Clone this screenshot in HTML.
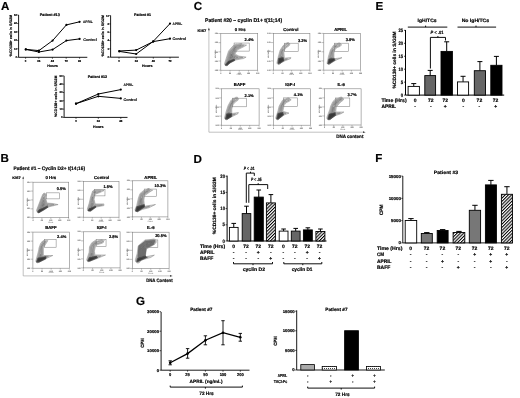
<!DOCTYPE html>
<html><head><meta charset="utf-8"><style>
html,body{margin:0;padding:0;background:#fff;}
svg{display:block;font-family:"Liberation Sans",sans-serif;font-weight:bold;text-rendering:geometricPrecision;will-change:transform;}
</style></head><body>
<svg width="520" height="398" viewBox="0 0 520 398">
<defs><filter id="gb" x="0" y="0" width="520" height="398" filterUnits="userSpaceOnUse"><feConvolveMatrix order="3" kernelMatrix="0.00000 0.00000 0.00000 0.00000 1.00000 0.00000 0.00000 0.00000 0.00000" edgeMode="duplicate" preserveAlpha="true"/></filter></defs>
<g>
<rect width="520" height="398" fill="#fff"/>
<defs><filter id="bl" x="-20%" y="-20%" width="140%" height="140%"><feGaussianBlur stdDeviation="0.55"/></filter><pattern id="hat" patternUnits="userSpaceOnUse" width="2.3" height="2.3" patternTransform="rotate(45)"><rect width="2.3" height="2.3" fill="#fff"/><rect width="1.05" height="2.3" fill="#000"/></pattern><pattern id="dots" patternUnits="userSpaceOnUse" width="2" height="2"><rect width="2" height="2" fill="#fff"/><rect width="1" height="1" fill="#444"/></pattern></defs>
<line x1="18.60" y1="15.00" x2="18.60" y2="57.30" stroke="#000" stroke-width="0.9"/>
<line x1="18.60" y1="57.30" x2="87.30" y2="57.30" stroke="#000" stroke-width="0.9"/>
<line x1="17.20" y1="57.30" x2="18.60" y2="57.30" stroke="#000" stroke-width="0.7"/>
<text x="17.00" y="58.23" font-size="2.70" text-anchor="end" stroke="#000" stroke-width="0.18">0</text>
<line x1="17.20" y1="48.84" x2="18.60" y2="48.84" stroke="#000" stroke-width="0.7"/>
<text x="17.00" y="49.77" font-size="2.70" text-anchor="end" stroke="#000" stroke-width="0.18">10</text>
<line x1="17.20" y1="40.38" x2="18.60" y2="40.38" stroke="#000" stroke-width="0.7"/>
<text x="17.00" y="41.31" font-size="2.70" text-anchor="end" stroke="#000" stroke-width="0.18">20</text>
<line x1="17.20" y1="31.92" x2="18.60" y2="31.92" stroke="#000" stroke-width="0.7"/>
<text x="17.00" y="32.85" font-size="2.70" text-anchor="end" stroke="#000" stroke-width="0.18">30</text>
<line x1="17.20" y1="23.46" x2="18.60" y2="23.46" stroke="#000" stroke-width="0.7"/>
<text x="17.00" y="24.39" font-size="2.70" text-anchor="end" stroke="#000" stroke-width="0.18">40</text>
<line x1="17.20" y1="15.00" x2="18.60" y2="15.00" stroke="#000" stroke-width="0.7"/>
<text x="17.00" y="15.93" font-size="2.70" text-anchor="end" stroke="#000" stroke-width="0.18">50</text>
<line x1="25.60" y1="57.30" x2="25.60" y2="58.70" stroke="#000" stroke-width="0.7"/>
<text x="25.60" y="61.67" font-size="2.80" text-anchor="middle" stroke="#000" stroke-width="0.18">0</text>
<line x1="38.80" y1="57.30" x2="38.80" y2="58.70" stroke="#000" stroke-width="0.7"/>
<text x="38.80" y="61.67" font-size="2.80" text-anchor="middle" stroke="#000" stroke-width="0.18">24</text>
<line x1="52.40" y1="57.30" x2="52.40" y2="58.70" stroke="#000" stroke-width="0.7"/>
<text x="52.40" y="61.67" font-size="2.80" text-anchor="middle" stroke="#000" stroke-width="0.18">48</text>
<line x1="66.20" y1="57.30" x2="66.20" y2="58.70" stroke="#000" stroke-width="0.7"/>
<text x="66.20" y="61.67" font-size="2.80" text-anchor="middle" stroke="#000" stroke-width="0.18">72</text>
<line x1="79.60" y1="57.30" x2="79.60" y2="58.70" stroke="#000" stroke-width="0.7"/>
<text x="79.60" y="61.67" font-size="2.80" text-anchor="middle" stroke="#000" stroke-width="0.18">96</text>
<text x="49.80" y="15.91" font-size="3.80" text-anchor="middle" textLength="19.90" lengthAdjust="spacingAndGlyphs" stroke="#000" stroke-width="0.18">Patient #13</text>
<text x="52.60" y="66.88" font-size="3.70" text-anchor="middle" textLength="10.50" lengthAdjust="spacingAndGlyphs" stroke="#000" stroke-width="0.18">Hours</text>
<text x="10.80" y="36.89" font-size="3.60" text-anchor="middle" textLength="41.50" lengthAdjust="spacingAndGlyphs" transform="rotate(-90 10.80 35.65)" stroke="#000" stroke-width="0.18">%CD138+ cells in S/G2M</text>
<polyline points="25.80,49.40 38.90,50.60 52.60,40.60 66.40,24.90 79.60,21.80" fill="none" stroke="#000" stroke-width="1.0"/>
<circle cx="25.80" cy="49.40" r="1.1" fill="#000"/>
<circle cx="38.90" cy="50.60" r="1.1" fill="#000"/>
<circle cx="52.60" cy="40.60" r="1.1" fill="#000"/>
<circle cx="66.40" cy="24.90" r="1.1" fill="#000"/>
<circle cx="79.60" cy="21.80" r="1.1" fill="#000"/>
<polyline points="25.80,49.40 38.90,52.00 52.60,49.60 66.40,40.60 79.60,38.90" fill="none" stroke="#000" stroke-width="1.0"/>
<circle cx="25.80" cy="49.40" r="1.1" fill="#000"/>
<circle cx="38.90" cy="52.00" r="1.1" fill="#000"/>
<circle cx="52.60" cy="49.60" r="1.1" fill="#000"/>
<circle cx="66.40" cy="40.60" r="1.1" fill="#000"/>
<circle cx="79.60" cy="38.90" r="1.1" fill="#000"/>
<text x="83.00" y="23.18" font-size="3.70" text-anchor="start" textLength="9.60" lengthAdjust="spacingAndGlyphs" stroke="#000" stroke-width="0.12">APRIL</text>
<text x="83.30" y="40.78" font-size="3.70" text-anchor="start" textLength="13.40" lengthAdjust="spacingAndGlyphs" stroke="#000" stroke-width="0.12">Control</text>
<line x1="110.60" y1="15.50" x2="110.60" y2="57.20" stroke="#000" stroke-width="0.9"/>
<line x1="110.60" y1="57.20" x2="178.90" y2="57.20" stroke="#000" stroke-width="0.9"/>
<line x1="109.20" y1="57.20" x2="110.60" y2="57.20" stroke="#000" stroke-width="0.7"/>
<text x="109.00" y="58.13" font-size="2.70" text-anchor="end" stroke="#000" stroke-width="0.18">0</text>
<line x1="109.20" y1="48.88" x2="110.60" y2="48.88" stroke="#000" stroke-width="0.7"/>
<text x="109.00" y="49.81" font-size="2.70" text-anchor="end" stroke="#000" stroke-width="0.18">2</text>
<line x1="109.20" y1="40.56" x2="110.60" y2="40.56" stroke="#000" stroke-width="0.7"/>
<text x="109.00" y="41.49" font-size="2.70" text-anchor="end" stroke="#000" stroke-width="0.18">4</text>
<line x1="109.20" y1="32.24" x2="110.60" y2="32.24" stroke="#000" stroke-width="0.7"/>
<text x="109.00" y="33.17" font-size="2.70" text-anchor="end" stroke="#000" stroke-width="0.18">6</text>
<line x1="109.20" y1="23.92" x2="110.60" y2="23.92" stroke="#000" stroke-width="0.7"/>
<text x="109.00" y="24.85" font-size="2.70" text-anchor="end" stroke="#000" stroke-width="0.18">8</text>
<line x1="109.20" y1="15.60" x2="110.60" y2="15.60" stroke="#000" stroke-width="0.7"/>
<text x="109.00" y="16.53" font-size="2.70" text-anchor="end" stroke="#000" stroke-width="0.18">10</text>
<line x1="119.00" y1="57.20" x2="119.00" y2="58.60" stroke="#000" stroke-width="0.7"/>
<text x="119.00" y="61.57" font-size="2.80" text-anchor="middle" stroke="#000" stroke-width="0.18">0</text>
<line x1="136.20" y1="57.20" x2="136.20" y2="58.60" stroke="#000" stroke-width="0.7"/>
<text x="136.20" y="61.57" font-size="2.80" text-anchor="middle" stroke="#000" stroke-width="0.18">24</text>
<line x1="153.30" y1="57.20" x2="153.30" y2="58.60" stroke="#000" stroke-width="0.7"/>
<text x="153.30" y="61.57" font-size="2.80" text-anchor="middle" stroke="#000" stroke-width="0.18">48</text>
<line x1="170.00" y1="57.20" x2="170.00" y2="58.60" stroke="#000" stroke-width="0.7"/>
<text x="170.00" y="61.57" font-size="2.80" text-anchor="middle" stroke="#000" stroke-width="0.18">72</text>
<text x="142.60" y="15.91" font-size="3.80" text-anchor="middle" textLength="17.00" lengthAdjust="spacingAndGlyphs" stroke="#000" stroke-width="0.18">Patient #1</text>
<text x="147.20" y="66.88" font-size="3.70" text-anchor="middle" textLength="10.50" lengthAdjust="spacingAndGlyphs" stroke="#000" stroke-width="0.18">Hours</text>
<text x="102.90" y="37.09" font-size="3.60" text-anchor="middle" textLength="41.50" lengthAdjust="spacingAndGlyphs" transform="rotate(-90 102.90 35.85)" stroke="#000" stroke-width="0.18">%CD138+ cells in S/G2M</text>
<polyline points="119.30,51.40 136.20,54.00 153.20,41.40 170.00,23.60" fill="none" stroke="#000" stroke-width="1.0"/>
<circle cx="119.30" cy="51.40" r="1.1" fill="#000"/>
<circle cx="136.20" cy="54.00" r="1.1" fill="#000"/>
<circle cx="153.20" cy="41.40" r="1.1" fill="#000"/>
<circle cx="170.00" cy="23.60" r="1.1" fill="#000"/>
<polyline points="119.30,51.00 136.20,50.10 153.20,41.60 170.00,38.70" fill="none" stroke="#000" stroke-width="1.0"/>
<circle cx="119.30" cy="51.00" r="1.1" fill="#000"/>
<circle cx="136.20" cy="50.10" r="1.1" fill="#000"/>
<circle cx="153.20" cy="41.60" r="1.1" fill="#000"/>
<circle cx="170.00" cy="38.70" r="1.1" fill="#000"/>
<text x="172.60" y="24.68" font-size="3.70" text-anchor="start" textLength="9.60" lengthAdjust="spacingAndGlyphs" stroke="#000" stroke-width="0.12">APRIL</text>
<text x="172.60" y="40.08" font-size="3.70" text-anchor="start" textLength="13.40" lengthAdjust="spacingAndGlyphs" stroke="#000" stroke-width="0.12">Control</text>
<line x1="64.10" y1="75.90" x2="64.10" y2="117.40" stroke="#000" stroke-width="0.9"/>
<line x1="64.10" y1="117.40" x2="127.50" y2="117.40" stroke="#000" stroke-width="0.9"/>
<line x1="62.70" y1="117.40" x2="64.10" y2="117.40" stroke="#000" stroke-width="0.7"/>
<text x="62.50" y="118.33" font-size="2.70" text-anchor="end" stroke="#000" stroke-width="0.18">0</text>
<line x1="62.70" y1="109.10" x2="64.10" y2="109.10" stroke="#000" stroke-width="0.7"/>
<text x="62.50" y="110.03" font-size="2.70" text-anchor="end" stroke="#000" stroke-width="0.18">10</text>
<line x1="62.70" y1="100.80" x2="64.10" y2="100.80" stroke="#000" stroke-width="0.7"/>
<text x="62.50" y="101.73" font-size="2.70" text-anchor="end" stroke="#000" stroke-width="0.18">20</text>
<line x1="62.70" y1="92.50" x2="64.10" y2="92.50" stroke="#000" stroke-width="0.7"/>
<text x="62.50" y="93.43" font-size="2.70" text-anchor="end" stroke="#000" stroke-width="0.18">30</text>
<line x1="62.70" y1="84.20" x2="64.10" y2="84.20" stroke="#000" stroke-width="0.7"/>
<text x="62.50" y="85.13" font-size="2.70" text-anchor="end" stroke="#000" stroke-width="0.18">40</text>
<line x1="62.70" y1="75.90" x2="64.10" y2="75.90" stroke="#000" stroke-width="0.7"/>
<text x="62.50" y="76.83" font-size="2.70" text-anchor="end" stroke="#000" stroke-width="0.18">50</text>
<line x1="76.00" y1="117.40" x2="76.00" y2="118.80" stroke="#000" stroke-width="0.7"/>
<text x="76.00" y="121.77" font-size="2.80" text-anchor="middle" stroke="#000" stroke-width="0.18">0</text>
<line x1="98.30" y1="117.40" x2="98.30" y2="118.80" stroke="#000" stroke-width="0.7"/>
<text x="98.30" y="121.77" font-size="2.80" text-anchor="middle" stroke="#000" stroke-width="0.18">24</text>
<line x1="120.80" y1="117.40" x2="120.80" y2="118.80" stroke="#000" stroke-width="0.7"/>
<text x="120.80" y="121.77" font-size="2.80" text-anchor="middle" stroke="#000" stroke-width="0.18">48</text>
<text x="97.40" y="77.61" font-size="3.80" text-anchor="middle" textLength="19.30" lengthAdjust="spacingAndGlyphs" stroke="#000" stroke-width="0.18">Patient #12</text>
<text x="98.30" y="127.58" font-size="3.70" text-anchor="middle" textLength="10.50" lengthAdjust="spacingAndGlyphs" stroke="#000" stroke-width="0.18">Hours</text>
<text x="56.20" y="97.39" font-size="3.60" text-anchor="middle" textLength="41.50" lengthAdjust="spacingAndGlyphs" transform="rotate(-90 56.20 96.15)" stroke="#000" stroke-width="0.18">%CD138+ cells in S/G2M</text>
<polyline points="76.00,103.70 98.30,94.00 120.80,89.60" fill="none" stroke="#000" stroke-width="1.0"/>
<circle cx="76.00" cy="103.70" r="1.1" fill="#000"/>
<circle cx="98.30" cy="94.00" r="1.1" fill="#000"/>
<circle cx="120.80" cy="89.60" r="1.1" fill="#000"/>
<polyline points="76.00,103.70 98.30,96.30 120.80,98.40" fill="none" stroke="#000" stroke-width="1.0"/>
<circle cx="76.00" cy="103.70" r="1.1" fill="#000"/>
<circle cx="98.30" cy="96.30" r="1.1" fill="#000"/>
<circle cx="120.80" cy="98.40" r="1.1" fill="#000"/>
<text x="123.50" y="85.98" font-size="3.70" text-anchor="start" textLength="9.60" lengthAdjust="spacingAndGlyphs" stroke="#000" stroke-width="0.12">APRIL</text>
<text x="123.50" y="101.08" font-size="3.70" text-anchor="start" textLength="13.40" lengthAdjust="spacingAndGlyphs" stroke="#000" stroke-width="0.12">Control</text>
<rect x="220.80" y="33.50" width="36.90" height="36.70" fill="none" stroke="#808080" stroke-width="0.6"/>
<line x1="218.40" y1="70.20" x2="220.80" y2="70.20" stroke="#777" stroke-width="0.45"/>
<text x="218.00" y="70.86" font-size="1.90" text-anchor="end" fill="#777" stroke="#777" stroke-width="0.1">100</text>
<line x1="220.80" y1="70.20" x2="220.80" y2="71.70" stroke="#777" stroke-width="0.45"/>
<text x="220.80" y="73.66" font-size="1.90" text-anchor="middle" fill="#777" stroke="#777" stroke-width="0.1">0</text>
<line x1="218.40" y1="61.03" x2="220.80" y2="61.03" stroke="#777" stroke-width="0.45"/>
<text x="218.00" y="61.68" font-size="1.90" text-anchor="end" fill="#777" stroke="#777" stroke-width="0.1">101</text>
<line x1="230.03" y1="70.20" x2="230.03" y2="71.70" stroke="#777" stroke-width="0.45"/>
<text x="230.03" y="73.66" font-size="1.90" text-anchor="middle" fill="#777" stroke="#777" stroke-width="0.1">50</text>
<line x1="218.40" y1="51.85" x2="220.80" y2="51.85" stroke="#777" stroke-width="0.45"/>
<text x="218.00" y="52.51" font-size="1.90" text-anchor="end" fill="#777" stroke="#777" stroke-width="0.1">102</text>
<line x1="239.25" y1="70.20" x2="239.25" y2="71.70" stroke="#777" stroke-width="0.45"/>
<text x="239.25" y="73.66" font-size="1.90" text-anchor="middle" fill="#777" stroke="#777" stroke-width="0.1">100</text>
<line x1="218.40" y1="42.67" x2="220.80" y2="42.67" stroke="#777" stroke-width="0.45"/>
<text x="218.00" y="43.33" font-size="1.90" text-anchor="end" fill="#777" stroke="#777" stroke-width="0.1">103</text>
<line x1="248.47" y1="70.20" x2="248.47" y2="71.70" stroke="#777" stroke-width="0.45"/>
<text x="248.47" y="73.66" font-size="1.90" text-anchor="middle" fill="#777" stroke="#777" stroke-width="0.1">150</text>
<line x1="218.40" y1="33.50" x2="220.80" y2="33.50" stroke="#777" stroke-width="0.45"/>
<text x="218.00" y="34.16" font-size="1.90" text-anchor="end" fill="#777" stroke="#777" stroke-width="0.1">104</text>
<line x1="257.70" y1="70.20" x2="257.70" y2="71.70" stroke="#777" stroke-width="0.45"/>
<text x="257.70" y="73.66" font-size="1.90" text-anchor="middle" fill="#777" stroke="#777" stroke-width="0.1">200</text>
<text x="215.60" y="54.27" font-size="1.70" text-anchor="middle" transform="rotate(-90 215.60 53.69)" fill="#888" stroke="#888" stroke-width="0.05">Ki67-FITC</text>
<text x="239.25" y="75.49" font-size="1.70" text-anchor="middle" fill="#888" stroke="#888" stroke-width="0.05">FL2-A</text>
<g><path d="M231.0 62.2 235.1 60.1 243.7 58.5 246.1 57.1 238.9 56.1 235.7 54.4 235.3 53.7 237.2 50.0 243.1 47.1 246.6 45.1 242.8 44.6 242.2 43.8 241.2 43.4 237.6 44.2 236.7 44.1 233.7 45.2 231.0 48.1 228.5 51.1 224.6 63.4 224.6 64.6 225.0 65.2 225.6 65.6 226.3 65.8 227.0 65.7 227.7 65.2 228.2 64.3Z" fill="#d6d6d6" fill-rule="evenodd"/><path d="M227.4 57.4 227.2 58.5 225.4 63.8 225.6 64.5 226.2 64.8 226.9 64.7 227.5 63.6 230.5 61.4 234.7 59.3 242.9 57.6 238.4 56.9 235.0 55.1 234.6 54.5 234.4 53.7 234.6 53.0 236.5 49.4 243.7 45.7 242.4 45.5 241.7 44.6 241.1 44.4 237.8 45.1 236.8 45.0 234.3 46.0 230.5 50.1 229.4 51.6Z" fill="rgb(189,189,189)" fill-rule="evenodd"/><path d="M226.7 63.2 230.0 60.6 234.1 58.5 237.8 57.7 234.8 56.1 234.1 55.6 233.5 54.3 233.6 53.0 235.7 48.8 236.4 48.3 241.4 45.8 241.1 45.3 237.9 46.0 236.9 46.0 234.9 46.8 231.2 50.8 230.2 52.0Z" fill="rgb(173,173,173)" fill-rule="evenodd"/><path d="M228.6 60.5 229.8 59.6 233.8 57.6 234.9 57.3 233.8 56.5 233.0 55.7 232.6 54.4 232.5 53.3 232.8 52.3 234.6 48.7 235.3 47.9 236.4 47.2 235.4 47.6 231.1 52.5Z" fill="rgb(157,157,157)" fill-rule="evenodd"/><path d="M230.2 58.4 232.9 57.0 232.0 55.8 231.6 54.1Z" fill="rgb(141,141,141)" fill-rule="evenodd"/><path d="M231.0 62.2 235.1 60.1 243.7 58.5 246.1 57.1 238.9 56.1 235.7 54.4 235.3 53.7 237.2 50.0 243.1 47.1 246.6 45.1 242.8 44.6 242.2 43.8 241.2 43.4 237.6 44.2 236.7 44.1 233.7 45.2 231.0 48.1 228.5 51.1 224.6 63.4 224.6 64.6 225.0 65.2 225.6 65.6 226.3 65.8 227.0 65.7 227.7 65.2 228.2 64.3Z" fill="none" stroke="#555" stroke-width="0.35"/><path d="M227.4 57.4 227.2 58.5 225.4 63.8 225.6 64.5 226.2 64.8 226.9 64.7 227.5 63.6 230.5 61.4 234.7 59.3 242.9 57.6 238.4 56.9 235.0 55.1 234.6 54.5 234.4 53.7 234.6 53.0 236.5 49.4 243.7 45.7 242.4 45.5 241.7 44.6 241.1 44.4 237.8 45.1 236.8 45.0 234.3 46.0 230.5 50.1 229.4 51.6Z" fill="none" stroke="#555" stroke-width="0.35"/><path d="M226.7 63.2 230.0 60.6 234.1 58.5 237.8 57.7 234.8 56.1 234.1 55.6 233.5 54.3 233.6 53.0 235.7 48.8 236.4 48.3 241.4 45.8 241.1 45.3 237.9 46.0 236.9 46.0 234.9 46.8 231.2 50.8 230.2 52.0Z" fill="none" stroke="#555" stroke-width="0.35"/><path d="M228.6 60.5 229.8 59.6 233.8 57.6 234.9 57.3 233.8 56.5 233.0 55.7 232.6 54.4 232.5 53.3 232.8 52.3 234.6 48.7 235.3 47.9 236.4 47.2 235.4 47.6 231.1 52.5Z" fill="none" stroke="#555" stroke-width="0.35"/><path d="M230.2 58.4 232.9 57.0 232.0 55.8 231.6 54.1Z" fill="none" stroke="#555" stroke-width="0.35"/><path d="M225.2 65.3 227.2 65.6 230.1 63.0 234.9 60.5 235.0 60.2 234.1 59.0 228.1 61.2 225.1 65.0Z" fill="#555"/><path d="M225.2 65.3 227.2 65.6 230.1 63.0 234.9 60.5 235.0 60.2 234.1 59.0 228.1 61.2 225.1 65.0Z" fill="none" stroke="#222" stroke-width="0.35"/><path d="M226.1 64.7 226.9 64.9 229.8 62.4 234.1 60.1 233.9 59.8 228.5 61.8Z" fill="#383838"/></g>
<rect x="234.08" y="43.04" width="15.13" height="8.07" fill="none" stroke="#808080" stroke-width="0.55"/>
<text x="249.14" y="41.38" font-size="4.00" text-anchor="middle" stroke="#000" stroke-width="0.18">2.4%</text>
<rect x="273.30" y="33.40" width="36.60" height="36.70" fill="none" stroke="#808080" stroke-width="0.6"/>
<line x1="270.90" y1="70.10" x2="273.30" y2="70.10" stroke="#777" stroke-width="0.45"/>
<text x="270.50" y="70.76" font-size="1.90" text-anchor="end" fill="#777" stroke="#777" stroke-width="0.1">100</text>
<line x1="273.30" y1="70.10" x2="273.30" y2="71.60" stroke="#777" stroke-width="0.45"/>
<text x="273.30" y="73.56" font-size="1.90" text-anchor="middle" fill="#777" stroke="#777" stroke-width="0.1">0</text>
<line x1="270.90" y1="60.92" x2="273.30" y2="60.92" stroke="#777" stroke-width="0.45"/>
<text x="270.50" y="61.58" font-size="1.90" text-anchor="end" fill="#777" stroke="#777" stroke-width="0.1">101</text>
<line x1="282.45" y1="70.10" x2="282.45" y2="71.60" stroke="#777" stroke-width="0.45"/>
<text x="282.45" y="73.56" font-size="1.90" text-anchor="middle" fill="#777" stroke="#777" stroke-width="0.1">50</text>
<line x1="270.90" y1="51.75" x2="273.30" y2="51.75" stroke="#777" stroke-width="0.45"/>
<text x="270.50" y="52.41" font-size="1.90" text-anchor="end" fill="#777" stroke="#777" stroke-width="0.1">102</text>
<line x1="291.60" y1="70.10" x2="291.60" y2="71.60" stroke="#777" stroke-width="0.45"/>
<text x="291.60" y="73.56" font-size="1.90" text-anchor="middle" fill="#777" stroke="#777" stroke-width="0.1">100</text>
<line x1="270.90" y1="42.57" x2="273.30" y2="42.57" stroke="#777" stroke-width="0.45"/>
<text x="270.50" y="43.23" font-size="1.90" text-anchor="end" fill="#777" stroke="#777" stroke-width="0.1">103</text>
<line x1="300.75" y1="70.10" x2="300.75" y2="71.60" stroke="#777" stroke-width="0.45"/>
<text x="300.75" y="73.56" font-size="1.90" text-anchor="middle" fill="#777" stroke="#777" stroke-width="0.1">150</text>
<line x1="270.90" y1="33.40" x2="273.30" y2="33.40" stroke="#777" stroke-width="0.45"/>
<text x="270.50" y="34.06" font-size="1.90" text-anchor="end" fill="#777" stroke="#777" stroke-width="0.1">104</text>
<line x1="309.90" y1="70.10" x2="309.90" y2="71.60" stroke="#777" stroke-width="0.45"/>
<text x="309.90" y="73.56" font-size="1.90" text-anchor="middle" fill="#777" stroke="#777" stroke-width="0.1">200</text>
<text x="268.10" y="54.17" font-size="1.70" text-anchor="middle" transform="rotate(-90 268.10 53.58)" fill="#888" stroke="#888" stroke-width="0.05">Ki67-FITC</text>
<text x="291.60" y="75.39" font-size="1.70" text-anchor="middle" fill="#888" stroke="#888" stroke-width="0.05">FL2-A</text>
<g><path d="M285.3 60.7 290.5 58.7 290.9 57.6 285.0 58.1 284.5 57.9 284.3 57.4 283.9 52.2 284.8 49.6 285.6 48.3 289.1 45.8 289.7 44.9 289.8 43.8 289.1 43.0 288.3 42.6 287.0 42.8 283.1 45.6 280.1 50.2 278.5 55.8 277.0 62.4 277.0 63.3 277.4 63.9 277.9 64.4 278.6 64.6 279.3 64.5 280.2 64.0 280.6 63.1Z" fill="#d6d6d6" fill-rule="evenodd"/><path d="M284.9 59.9 287.5 58.9 284.8 59.0 284.2 58.8 283.6 58.3 283.3 57.5 282.9 51.9 283.9 49.2 284.9 47.7 288.7 44.9 288.7 44.1 288.1 43.5 287.4 43.7 283.6 46.4 280.9 50.6 279.4 56.0 277.9 62.5 278.0 63.2 278.5 63.6 279.2 63.5 280.1 62.3Z" fill="rgb(189,189,189)" fill-rule="evenodd"/><path d="M279.0 62.0 279.7 61.4 283.5 59.5 282.8 58.8 282.4 57.9 282.0 52.4 282.1 51.5 282.8 49.4 281.8 51.1 280.3 56.2Z" fill="rgb(173,173,173)" fill-rule="evenodd"/><path d="M280.4 60.0 282.0 59.2 281.5 58.1 281.3 56.2Z" fill="rgb(157,157,157)" fill-rule="evenodd"/><path d="M285.3 60.7 290.5 58.7 290.9 57.6 285.0 58.1 284.5 57.9 284.3 57.4 283.9 52.2 284.8 49.6 285.6 48.3 289.1 45.8 289.7 44.9 289.8 43.8 289.1 43.0 288.3 42.6 287.0 42.8 283.1 45.6 280.1 50.2 278.5 55.8 277.0 62.4 277.0 63.3 277.4 63.9 277.9 64.4 278.6 64.6 279.3 64.5 280.2 64.0 280.6 63.1Z" fill="none" stroke="#555" stroke-width="0.35"/><path d="M284.9 59.9 287.5 58.9 284.8 59.0 284.2 58.8 283.6 58.3 283.3 57.5 282.9 51.9 283.9 49.2 284.9 47.7 288.7 44.9 288.7 44.1 288.1 43.5 287.4 43.7 283.6 46.4 280.9 50.6 279.4 56.0 277.9 62.5 278.0 63.2 278.5 63.6 279.2 63.5 280.1 62.3Z" fill="none" stroke="#555" stroke-width="0.35"/><path d="M279.0 62.0 279.7 61.4 283.5 59.5 282.8 58.8 282.4 57.9 282.0 52.4 282.1 51.5 282.8 49.4 281.8 51.1 280.3 56.2Z" fill="none" stroke="#555" stroke-width="0.35"/><path d="M280.4 60.0 282.0 59.2 281.5 58.1 281.3 56.2Z" fill="none" stroke="#555" stroke-width="0.35"/><path d="M278.1 63.7 280.3 63.3 284.1 60.7 283.3 57.5 278.6 58.2 277.9 63.5Z" fill="#555"/><path d="M278.1 63.7 280.3 63.3 284.1 60.7 283.3 57.5 278.6 58.2 277.9 63.5Z" fill="none" stroke="#222" stroke-width="0.35"/><path d="M278.6 62.9 280.1 62.7 283.3 60.3 282.8 58.2 279.2 58.8Z" fill="#383838"/></g>
<rect x="284.65" y="43.20" width="13.54" height="8.11" fill="none" stroke="#808080" stroke-width="0.55"/>
<text x="302.58" y="42.12" font-size="4.00" text-anchor="middle" stroke="#000" stroke-width="0.18">3.2%</text>
<rect x="323.80" y="33.40" width="36.80" height="36.70" fill="none" stroke="#808080" stroke-width="0.6"/>
<line x1="321.40" y1="70.10" x2="323.80" y2="70.10" stroke="#777" stroke-width="0.45"/>
<text x="321.00" y="70.76" font-size="1.90" text-anchor="end" fill="#777" stroke="#777" stroke-width="0.1">100</text>
<line x1="323.80" y1="70.10" x2="323.80" y2="71.60" stroke="#777" stroke-width="0.45"/>
<text x="323.80" y="73.56" font-size="1.90" text-anchor="middle" fill="#777" stroke="#777" stroke-width="0.1">0</text>
<line x1="321.40" y1="60.92" x2="323.80" y2="60.92" stroke="#777" stroke-width="0.45"/>
<text x="321.00" y="61.58" font-size="1.90" text-anchor="end" fill="#777" stroke="#777" stroke-width="0.1">101</text>
<line x1="333.00" y1="70.10" x2="333.00" y2="71.60" stroke="#777" stroke-width="0.45"/>
<text x="333.00" y="73.56" font-size="1.90" text-anchor="middle" fill="#777" stroke="#777" stroke-width="0.1">50</text>
<line x1="321.40" y1="51.75" x2="323.80" y2="51.75" stroke="#777" stroke-width="0.45"/>
<text x="321.00" y="52.41" font-size="1.90" text-anchor="end" fill="#777" stroke="#777" stroke-width="0.1">102</text>
<line x1="342.20" y1="70.10" x2="342.20" y2="71.60" stroke="#777" stroke-width="0.45"/>
<text x="342.20" y="73.56" font-size="1.90" text-anchor="middle" fill="#777" stroke="#777" stroke-width="0.1">100</text>
<line x1="321.40" y1="42.57" x2="323.80" y2="42.57" stroke="#777" stroke-width="0.45"/>
<text x="321.00" y="43.23" font-size="1.90" text-anchor="end" fill="#777" stroke="#777" stroke-width="0.1">103</text>
<line x1="351.40" y1="70.10" x2="351.40" y2="71.60" stroke="#777" stroke-width="0.45"/>
<text x="351.40" y="73.56" font-size="1.90" text-anchor="middle" fill="#777" stroke="#777" stroke-width="0.1">150</text>
<line x1="321.40" y1="33.40" x2="323.80" y2="33.40" stroke="#777" stroke-width="0.45"/>
<text x="321.00" y="34.06" font-size="1.90" text-anchor="end" fill="#777" stroke="#777" stroke-width="0.1">104</text>
<line x1="360.60" y1="70.10" x2="360.60" y2="71.60" stroke="#777" stroke-width="0.45"/>
<text x="360.60" y="73.56" font-size="1.90" text-anchor="middle" fill="#777" stroke="#777" stroke-width="0.1">200</text>
<text x="318.60" y="54.17" font-size="1.70" text-anchor="middle" transform="rotate(-90 318.60 53.58)" fill="#888" stroke="#888" stroke-width="0.05">Ki67-FITC</text>
<text x="342.20" y="75.39" font-size="1.70" text-anchor="middle" fill="#888" stroke="#888" stroke-width="0.05">FL2-A</text>
<g><path d="M337.0 59.7 342.0 57.7 334.9 58.6 334.3 58.4 334.0 57.9 334.0 53.1 334.8 50.0 335.7 48.6 337.5 47.5 340.3 46.3 340.8 45.8 341.1 45.1 341.5 44.8 341.1 44.7 341.0 44.1 340.6 43.5 339.6 43.0 338.7 43.0 336.3 44.0 335.0 44.0 334.5 44.7 333.4 45.4 330.4 50.0 328.6 55.8 327.2 62.4 327.2 63.4 327.6 64.0 328.2 64.4 328.9 64.6 329.6 64.5 330.3 64.0 330.8 63.1Z" fill="#d6d6d6" fill-rule="evenodd"/><path d="M335.5 45.0 335.2 45.5 334.2 46.0 331.1 50.7 329.6 56.0 328.1 62.5 328.2 63.2 328.7 63.6 329.4 63.5 330.2 62.3 335.4 59.5 334.6 59.5 333.9 59.3 333.4 58.7 333.1 58.1 333.1 53.1 333.9 49.7 335.1 47.9 337.1 46.6 339.8 45.5 340.2 44.9 339.9 44.1 339.3 43.9 336.6 44.9Z" fill="rgb(189,189,189)" fill-rule="evenodd"/><path d="M329.2 62.1 329.7 61.5 333.0 59.7 332.4 58.9 332.1 57.8 332.1 53.0 333.0 49.5 331.9 51.1 330.5 56.2ZM334.6 47.1 334.7 47.0 336.5 45.9 336.0 45.9 334.9 46.7Z" fill="rgb(173,173,173)" fill-rule="evenodd"/><path d="M330.6 59.9 331.6 59.4 331.2 58.4 331.2 57.4Z" fill="rgb(157,157,157)" fill-rule="evenodd"/><path d="M337.0 59.7 342.0 57.7 334.9 58.6 334.3 58.4 334.0 57.9 334.0 53.1 334.8 50.0 335.7 48.6 337.5 47.5 340.3 46.3 340.8 45.8 341.1 45.1 341.5 44.8 341.1 44.7 341.0 44.1 340.6 43.5 339.6 43.0 338.7 43.0 336.3 44.0 335.0 44.0 334.5 44.7 333.4 45.4 330.4 50.0 328.6 55.8 327.2 62.4 327.2 63.4 327.6 64.0 328.2 64.4 328.9 64.6 329.6 64.5 330.3 64.0 330.8 63.1Z" fill="none" stroke="#555" stroke-width="0.35"/><path d="M335.5 45.0 335.2 45.5 334.2 46.0 331.1 50.7 329.6 56.0 328.1 62.5 328.2 63.2 328.7 63.6 329.4 63.5 330.2 62.3 335.4 59.5 334.6 59.5 333.9 59.3 333.4 58.7 333.1 58.1 333.1 53.1 333.9 49.7 335.1 47.9 337.1 46.6 339.8 45.5 340.2 44.9 339.9 44.1 339.3 43.9 336.6 44.9Z" fill="none" stroke="#555" stroke-width="0.35"/><path d="M329.2 62.1 329.7 61.5 333.0 59.7 332.4 58.9 332.1 57.8 332.1 53.0 333.0 49.5 331.9 51.1 330.5 56.2ZM334.6 47.1 334.7 47.0 336.5 45.9 336.0 45.9 334.9 46.7Z" fill="none" stroke="#555" stroke-width="0.35"/><path d="M330.6 59.9 331.6 59.4 331.2 58.4 331.2 57.4Z" fill="none" stroke="#555" stroke-width="0.35"/><path d="M327.9 64.1 330.5 63.3 335.0 60.3 334.2 58.2 328.8 58.9 327.7 63.8Z" fill="#555"/><path d="M327.9 64.1 330.5 63.3 335.0 60.3 334.2 58.2 328.8 58.9 327.7 63.8Z" fill="none" stroke="#222" stroke-width="0.35"/><path d="M328.5 63.1 330.2 62.7 334.2 60.0 333.8 58.9 329.4 59.5Z" fill="#383838"/></g>
<rect x="334.58" y="43.20" width="14.02" height="8.11" fill="none" stroke="#808080" stroke-width="0.55"/>
<text x="350.30" y="40.76" font-size="4.00" text-anchor="middle" stroke="#000" stroke-width="0.18">3.9%</text>
<rect x="221.50" y="88.80" width="37.60" height="36.40" fill="none" stroke="#808080" stroke-width="0.6"/>
<line x1="219.10" y1="125.20" x2="221.50" y2="125.20" stroke="#777" stroke-width="0.45"/>
<text x="218.70" y="125.86" font-size="1.90" text-anchor="end" fill="#777" stroke="#777" stroke-width="0.1">100</text>
<line x1="221.50" y1="125.20" x2="221.50" y2="126.70" stroke="#777" stroke-width="0.45"/>
<text x="221.50" y="128.66" font-size="1.90" text-anchor="middle" fill="#777" stroke="#777" stroke-width="0.1">0</text>
<line x1="219.10" y1="116.10" x2="221.50" y2="116.10" stroke="#777" stroke-width="0.45"/>
<text x="218.70" y="116.76" font-size="1.90" text-anchor="end" fill="#777" stroke="#777" stroke-width="0.1">101</text>
<line x1="230.90" y1="125.20" x2="230.90" y2="126.70" stroke="#777" stroke-width="0.45"/>
<text x="230.90" y="128.66" font-size="1.90" text-anchor="middle" fill="#777" stroke="#777" stroke-width="0.1">50</text>
<line x1="219.10" y1="107.00" x2="221.50" y2="107.00" stroke="#777" stroke-width="0.45"/>
<text x="218.70" y="107.66" font-size="1.90" text-anchor="end" fill="#777" stroke="#777" stroke-width="0.1">102</text>
<line x1="240.30" y1="125.20" x2="240.30" y2="126.70" stroke="#777" stroke-width="0.45"/>
<text x="240.30" y="128.66" font-size="1.90" text-anchor="middle" fill="#777" stroke="#777" stroke-width="0.1">100</text>
<line x1="219.10" y1="97.90" x2="221.50" y2="97.90" stroke="#777" stroke-width="0.45"/>
<text x="218.70" y="98.56" font-size="1.90" text-anchor="end" fill="#777" stroke="#777" stroke-width="0.1">103</text>
<line x1="249.70" y1="125.20" x2="249.70" y2="126.70" stroke="#777" stroke-width="0.45"/>
<text x="249.70" y="128.66" font-size="1.90" text-anchor="middle" fill="#777" stroke="#777" stroke-width="0.1">150</text>
<line x1="219.10" y1="88.80" x2="221.50" y2="88.80" stroke="#777" stroke-width="0.45"/>
<text x="218.70" y="89.46" font-size="1.90" text-anchor="end" fill="#777" stroke="#777" stroke-width="0.1">104</text>
<line x1="259.10" y1="125.20" x2="259.10" y2="126.70" stroke="#777" stroke-width="0.45"/>
<text x="259.10" y="128.66" font-size="1.90" text-anchor="middle" fill="#777" stroke="#777" stroke-width="0.1">200</text>
<text x="216.30" y="109.41" font-size="1.70" text-anchor="middle" transform="rotate(-90 216.30 108.82)" fill="#888" stroke="#888" stroke-width="0.05">Ki67-FITC</text>
<text x="240.30" y="130.49" font-size="1.70" text-anchor="middle" fill="#888" stroke="#888" stroke-width="0.05">FL2-A</text>
<g><path d="M231.2 117.0 237.9 113.8 238.4 112.5 232.7 113.4 232.1 113.2 231.8 112.7 231.8 109.2 232.9 104.9 235.2 102.1 237.7 100.5 238.3 99.6 238.4 98.9 238.2 98.2 237.8 97.6 237.2 97.2 235.9 97.2 234.0 98.4 233.5 98.4 233.0 99.0 231.3 100.0 230.8 100.6 228.0 105.7 226.1 111.6 224.6 117.4 224.6 118.4 224.9 119.0 225.4 119.5 226.1 119.8 226.8 119.7 227.6 119.3 228.1 118.7Z" fill="#d6d6d6" fill-rule="evenodd"/><path d="M226.8 118.8 227.6 117.9 230.8 116.1 235.5 113.9 232.6 114.4 231.9 114.2 231.3 113.8 230.9 112.8 230.9 109.1 232.1 104.4 234.5 101.4 237.3 99.5 237.4 98.8 236.9 98.1 236.1 98.2 234.4 99.2 233.9 99.3 231.8 100.9 228.9 105.9 227.0 111.8 225.5 117.8 225.6 118.4 226.2 118.8Z" fill="rgb(189,189,189)" fill-rule="evenodd"/><path d="M226.5 117.8 227.2 117.1 231.1 114.9 230.4 114.2 229.9 113.0 230.0 108.7 231.2 104.0 233.9 100.7 232.4 101.6 229.8 106.3 227.9 112.1ZM234.3 100.4 234.6 100.2 234.4 100.2Z" fill="rgb(173,173,173)" fill-rule="evenodd"/><path d="M228.0 115.5 229.6 114.6 229.0 113.4 229.0 112.0Z" fill="rgb(157,157,157)" fill-rule="evenodd"/><path d="M231.2 117.0 237.9 113.8 238.4 112.5 232.7 113.4 232.1 113.2 231.8 112.7 231.8 109.2 232.9 104.9 235.2 102.1 237.7 100.5 238.3 99.6 238.4 98.9 238.2 98.2 237.8 97.6 237.2 97.2 235.9 97.2 234.0 98.4 233.5 98.4 233.0 99.0 231.3 100.0 230.8 100.6 228.0 105.7 226.1 111.6 224.6 117.4 224.6 118.4 224.9 119.0 225.4 119.5 226.1 119.8 226.8 119.7 227.6 119.3 228.1 118.7Z" fill="none" stroke="#555" stroke-width="0.35"/><path d="M226.8 118.8 227.6 117.9 230.8 116.1 235.5 113.9 232.6 114.4 231.9 114.2 231.3 113.8 230.9 112.8 230.9 109.1 232.1 104.4 234.5 101.4 237.3 99.5 237.4 98.8 236.9 98.1 236.1 98.2 234.4 99.2 233.9 99.3 231.8 100.9 228.9 105.9 227.0 111.8 225.5 117.8 225.6 118.4 226.2 118.8Z" fill="none" stroke="#555" stroke-width="0.35"/><path d="M226.5 117.8 227.2 117.1 231.1 114.9 230.4 114.2 229.9 113.0 230.0 108.7 231.2 104.0 233.9 100.7 232.4 101.6 229.8 106.3 227.9 112.1ZM234.3 100.4 234.6 100.2 234.4 100.2Z" fill="none" stroke="#555" stroke-width="0.35"/><path d="M228.0 115.5 229.6 114.6 229.0 113.4 229.0 112.0Z" fill="none" stroke="#555" stroke-width="0.35"/><path d="M225.6 119.2 227.6 119.2 231.8 116.6 231.8 113.4 226.6 113.8 225.4 119.0Z" fill="#555"/><path d="M225.6 119.2 227.6 119.2 231.8 116.6 231.8 113.4 226.6 113.8 225.4 119.0Z" fill="none" stroke="#222" stroke-width="0.35"/><path d="M226.3 118.5 227.4 118.5 231.2 116.2 231.2 114.1 227.2 114.4Z" fill="#383838"/></g>
<rect x="232.33" y="98.19" width="14.18" height="8.59" fill="none" stroke="#808080" stroke-width="0.55"/>
<text x="249.14" y="96.73" font-size="4.00" text-anchor="middle" stroke="#000" stroke-width="0.18">2.1%</text>
<rect x="273.50" y="88.80" width="37.10" height="36.40" fill="none" stroke="#808080" stroke-width="0.6"/>
<line x1="271.10" y1="125.20" x2="273.50" y2="125.20" stroke="#777" stroke-width="0.45"/>
<text x="270.70" y="125.86" font-size="1.90" text-anchor="end" fill="#777" stroke="#777" stroke-width="0.1">100</text>
<line x1="273.50" y1="125.20" x2="273.50" y2="126.70" stroke="#777" stroke-width="0.45"/>
<text x="273.50" y="128.66" font-size="1.90" text-anchor="middle" fill="#777" stroke="#777" stroke-width="0.1">0</text>
<line x1="271.10" y1="116.10" x2="273.50" y2="116.10" stroke="#777" stroke-width="0.45"/>
<text x="270.70" y="116.76" font-size="1.90" text-anchor="end" fill="#777" stroke="#777" stroke-width="0.1">101</text>
<line x1="282.77" y1="125.20" x2="282.77" y2="126.70" stroke="#777" stroke-width="0.45"/>
<text x="282.77" y="128.66" font-size="1.90" text-anchor="middle" fill="#777" stroke="#777" stroke-width="0.1">50</text>
<line x1="271.10" y1="107.00" x2="273.50" y2="107.00" stroke="#777" stroke-width="0.45"/>
<text x="270.70" y="107.66" font-size="1.90" text-anchor="end" fill="#777" stroke="#777" stroke-width="0.1">102</text>
<line x1="292.05" y1="125.20" x2="292.05" y2="126.70" stroke="#777" stroke-width="0.45"/>
<text x="292.05" y="128.66" font-size="1.90" text-anchor="middle" fill="#777" stroke="#777" stroke-width="0.1">100</text>
<line x1="271.10" y1="97.90" x2="273.50" y2="97.90" stroke="#777" stroke-width="0.45"/>
<text x="270.70" y="98.56" font-size="1.90" text-anchor="end" fill="#777" stroke="#777" stroke-width="0.1">103</text>
<line x1="301.33" y1="125.20" x2="301.33" y2="126.70" stroke="#777" stroke-width="0.45"/>
<text x="301.33" y="128.66" font-size="1.90" text-anchor="middle" fill="#777" stroke="#777" stroke-width="0.1">150</text>
<line x1="271.10" y1="88.80" x2="273.50" y2="88.80" stroke="#777" stroke-width="0.45"/>
<text x="270.70" y="89.46" font-size="1.90" text-anchor="end" fill="#777" stroke="#777" stroke-width="0.1">104</text>
<line x1="310.60" y1="125.20" x2="310.60" y2="126.70" stroke="#777" stroke-width="0.45"/>
<text x="310.60" y="128.66" font-size="1.90" text-anchor="middle" fill="#777" stroke="#777" stroke-width="0.1">200</text>
<text x="268.30" y="109.41" font-size="1.70" text-anchor="middle" transform="rotate(-90 268.30 108.82)" fill="#888" stroke="#888" stroke-width="0.05">Ki67-FITC</text>
<text x="292.05" y="130.49" font-size="1.70" text-anchor="middle" fill="#888" stroke="#888" stroke-width="0.05">FL2-A</text>
<g><path d="M283.4 115.3 289.0 113.1 283.6 111.5 283.2 111.3 283.0 110.8 284.1 105.3 286.5 102.5 289.2 101.4 289.8 100.9 290.1 100.3 291.2 99.8 290.2 99.6 289.8 98.5 288.9 97.9 287.8 97.9 285.5 98.9 283.5 99.3 282.3 100.6 279.7 105.0 279.0 106.5 278.0 110.8 275.8 117.5 275.9 118.7 276.4 119.3 277.0 119.7 277.7 119.8 278.4 119.6 279.0 119.1 279.4 118.4Z" fill="#d6d6d6" fill-rule="evenodd"/><path d="M279.9 106.8 278.9 111.1 276.7 117.7 276.8 118.4 277.4 118.8 278.1 118.6 278.7 117.7 282.9 114.5 286.0 113.2 283.1 112.4 282.2 111.4 282.1 110.5 283.1 105.3 283.4 104.6 285.9 101.7 289.0 100.4 289.3 99.8 289.0 99.1 288.6 98.9 288.2 98.8 285.8 99.8 284.0 100.1 283.1 101.1 280.5 105.4Z" fill="rgb(189,189,189)" fill-rule="evenodd"/><path d="M277.8 117.3 282.2 113.8 283.1 113.4 281.8 112.6 281.2 111.2 281.2 110.3 282.1 105.2 282.7 104.0 285.0 101.3 285.6 100.8 284.6 101.0 283.9 101.6 281.3 105.9 280.8 107.1 279.8 111.4Z" fill="rgb(173,173,173)" fill-rule="evenodd"/><path d="M279.8 114.5 281.3 113.4 280.5 112.3Z" fill="rgb(157,157,157)" fill-rule="evenodd"/><path d="M283.4 115.3 289.0 113.1 283.6 111.5 283.2 111.3 283.0 110.8 284.1 105.3 286.5 102.5 289.2 101.4 289.8 100.9 290.1 100.3 291.2 99.8 290.2 99.6 289.8 98.5 288.9 97.9 287.8 97.9 285.5 98.9 283.5 99.3 282.3 100.6 279.7 105.0 279.0 106.5 278.0 110.8 275.8 117.5 275.9 118.7 276.4 119.3 277.0 119.7 277.7 119.8 278.4 119.6 279.0 119.1 279.4 118.4Z" fill="none" stroke="#555" stroke-width="0.35"/><path d="M279.9 106.8 278.9 111.1 276.7 117.7 276.8 118.4 277.4 118.8 278.1 118.6 278.7 117.7 282.9 114.5 286.0 113.2 283.1 112.4 282.2 111.4 282.1 110.5 283.1 105.3 283.4 104.6 285.9 101.7 289.0 100.4 289.3 99.8 289.0 99.1 288.6 98.9 288.2 98.8 285.8 99.8 284.0 100.1 283.1 101.1 280.5 105.4Z" fill="none" stroke="#555" stroke-width="0.35"/><path d="M277.8 117.3 282.2 113.8 283.1 113.4 281.8 112.6 281.2 111.2 281.2 110.3 282.1 105.2 282.7 104.0 285.0 101.3 285.6 100.8 284.6 101.0 283.9 101.6 281.3 105.9 280.8 107.1 279.8 111.4Z" fill="none" stroke="#555" stroke-width="0.35"/><path d="M279.8 114.5 281.3 113.4 280.5 112.3Z" fill="none" stroke="#555" stroke-width="0.35"/><path d="M276.8 119.2 278.4 119.2 283.7 115.1 282.9 112.3 277.8 113.4 276.6 119.0Z" fill="#555"/><path d="M276.8 119.2 278.4 119.2 283.7 115.1 282.9 112.3 277.8 113.4 276.6 119.0Z" fill="none" stroke="#222" stroke-width="0.35"/><path d="M277.5 118.5 278.2 118.5 282.9 114.8 282.4 113.1 278.4 114.0Z" fill="#383838"/></g>
<rect x="283.48" y="97.90" width="14.14" height="8.55" fill="none" stroke="#808080" stroke-width="0.55"/>
<text x="298.36" y="96.00" font-size="4.00" text-anchor="middle" stroke="#000" stroke-width="0.18">4.1%</text>
<rect x="324.60" y="88.80" width="36.50" height="36.20" fill="none" stroke="#808080" stroke-width="0.6"/>
<line x1="322.20" y1="125.00" x2="324.60" y2="125.00" stroke="#777" stroke-width="0.45"/>
<text x="321.80" y="125.66" font-size="1.90" text-anchor="end" fill="#777" stroke="#777" stroke-width="0.1">100</text>
<line x1="324.60" y1="125.00" x2="324.60" y2="126.50" stroke="#777" stroke-width="0.45"/>
<text x="324.60" y="128.46" font-size="1.90" text-anchor="middle" fill="#777" stroke="#777" stroke-width="0.1">0</text>
<line x1="322.20" y1="115.95" x2="324.60" y2="115.95" stroke="#777" stroke-width="0.45"/>
<text x="321.80" y="116.61" font-size="1.90" text-anchor="end" fill="#777" stroke="#777" stroke-width="0.1">101</text>
<line x1="333.73" y1="125.00" x2="333.73" y2="126.50" stroke="#777" stroke-width="0.45"/>
<text x="333.73" y="128.46" font-size="1.90" text-anchor="middle" fill="#777" stroke="#777" stroke-width="0.1">50</text>
<line x1="322.20" y1="106.90" x2="324.60" y2="106.90" stroke="#777" stroke-width="0.45"/>
<text x="321.80" y="107.56" font-size="1.90" text-anchor="end" fill="#777" stroke="#777" stroke-width="0.1">102</text>
<line x1="342.85" y1="125.00" x2="342.85" y2="126.50" stroke="#777" stroke-width="0.45"/>
<text x="342.85" y="128.46" font-size="1.90" text-anchor="middle" fill="#777" stroke="#777" stroke-width="0.1">100</text>
<line x1="322.20" y1="97.85" x2="324.60" y2="97.85" stroke="#777" stroke-width="0.45"/>
<text x="321.80" y="98.51" font-size="1.90" text-anchor="end" fill="#777" stroke="#777" stroke-width="0.1">103</text>
<line x1="351.98" y1="125.00" x2="351.98" y2="126.50" stroke="#777" stroke-width="0.45"/>
<text x="351.98" y="128.46" font-size="1.90" text-anchor="middle" fill="#777" stroke="#777" stroke-width="0.1">150</text>
<line x1="322.20" y1="88.80" x2="324.60" y2="88.80" stroke="#777" stroke-width="0.45"/>
<text x="321.80" y="89.46" font-size="1.90" text-anchor="end" fill="#777" stroke="#777" stroke-width="0.1">104</text>
<line x1="361.10" y1="125.00" x2="361.10" y2="126.50" stroke="#777" stroke-width="0.45"/>
<text x="361.10" y="128.46" font-size="1.90" text-anchor="middle" fill="#777" stroke="#777" stroke-width="0.1">200</text>
<text x="319.40" y="109.30" font-size="1.70" text-anchor="middle" transform="rotate(-90 319.40 108.71)" fill="#888" stroke="#888" stroke-width="0.05">Ki67-FITC</text>
<text x="342.85" y="130.29" font-size="1.70" text-anchor="middle" fill="#888" stroke="#888" stroke-width="0.05">FL2-A</text>
<g><path d="M334.5 116.0 341.2 113.7 343.9 112.0 336.5 112.0 336.0 111.8 335.8 111.3 336.3 107.0 340.0 102.7 341.1 101.7 342.5 100.9 343.2 99.8 343.9 99.1 343.2 99.0 342.8 98.0 341.9 97.3 341.3 97.1 340.5 97.2 337.5 98.6 335.7 98.8 332.9 101.5 330.7 106.0 329.7 109.7 326.9 117.2 326.9 118.5 327.3 119.2 328.0 119.7 328.8 119.9 329.7 119.8 330.4 119.4 331.0 118.6Z" fill="#d6d6d6" fill-rule="evenodd"/><path d="M331.6 106.3 330.6 110.0 327.8 117.4 327.9 118.4 328.7 119.0 329.7 118.8 330.4 117.8 334.2 115.1 340.3 113.0 336.3 113.0 335.2 112.4 334.8 111.3 335.2 107.2 335.6 106.3 339.4 102.0 340.5 101.0 342.0 100.0 342.3 99.4 342.0 98.5 341.4 98.1 340.8 98.1 337.8 99.5 336.1 99.7 333.7 102.1Z" fill="rgb(189,189,189)" fill-rule="evenodd"/><path d="M332.5 106.6 331.5 110.4 328.7 117.7 328.9 118.0 329.2 118.0 329.9 117.0 333.4 114.4 335.3 113.7 334.4 112.8 333.9 111.6 334.5 106.4 334.9 105.6 338.7 101.3 339.9 100.2 341.2 99.5 341.2 99.1 340.9 99.0 338.0 100.4 336.5 100.6 334.5 102.7Z" fill="rgb(173,173,173)" fill-rule="evenodd"/><path d="M330.6 115.3 333.5 113.3 333.1 112.4 332.9 111.3 333.3 107.1 332.4 110.7ZM334.5 104.7 337.3 101.5 336.9 101.5 335.2 103.2Z" fill="rgb(157,157,157)" fill-rule="evenodd"/><path d="M334.5 116.0 341.2 113.7 343.9 112.0 336.5 112.0 336.0 111.8 335.8 111.3 336.3 107.0 340.0 102.7 341.1 101.7 342.5 100.9 343.2 99.8 343.9 99.1 343.2 99.0 342.8 98.0 341.9 97.3 341.3 97.1 340.5 97.2 337.5 98.6 335.7 98.8 332.9 101.5 330.7 106.0 329.7 109.7 326.9 117.2 326.9 118.5 327.3 119.2 328.0 119.7 328.8 119.9 329.7 119.8 330.4 119.4 331.0 118.6Z" fill="none" stroke="#555" stroke-width="0.35"/><path d="M331.6 106.3 330.6 110.0 327.8 117.4 327.9 118.4 328.7 119.0 329.7 118.8 330.4 117.8 334.2 115.1 340.3 113.0 336.3 113.0 335.2 112.4 334.8 111.3 335.2 107.2 335.6 106.3 339.4 102.0 340.5 101.0 342.0 100.0 342.3 99.4 342.0 98.5 341.4 98.1 340.8 98.1 337.8 99.5 336.1 99.7 333.7 102.1Z" fill="none" stroke="#555" stroke-width="0.35"/><path d="M332.5 106.6 331.5 110.4 328.7 117.7 328.9 118.0 329.2 118.0 329.9 117.0 333.4 114.4 335.3 113.7 334.4 112.8 333.9 111.6 334.5 106.4 334.9 105.6 338.7 101.3 339.9 100.2 341.2 99.5 341.2 99.1 340.9 99.0 338.0 100.4 336.5 100.6 334.5 102.7Z" fill="none" stroke="#555" stroke-width="0.35"/><path d="M330.6 115.3 333.5 113.3 333.1 112.4 332.9 111.3 333.3 107.1 332.4 110.7ZM334.5 104.7 337.3 101.5 336.9 101.5 335.2 103.2Z" fill="none" stroke="#555" stroke-width="0.35"/><path d="M327.9 119.4 330.2 119.4 335.7 115.4 335.3 112.6 329.2 114.0 327.7 119.1Z" fill="#555"/><path d="M327.9 119.4 330.2 119.4 335.7 115.4 335.3 112.6 329.2 114.0 327.7 119.1Z" fill="none" stroke="#222" stroke-width="0.35"/><path d="M328.5 118.7 329.9 118.7 335.0 115.0 334.8 113.3 329.7 114.6Z" fill="#383838"/></g>
<rect x="335.66" y="97.99" width="14.13" height="8.54" fill="none" stroke="#808080" stroke-width="0.55"/>
<text x="351.98" y="95.97" font-size="4.00" text-anchor="middle" stroke="#000" stroke-width="0.18">3.7%</text>
<text x="240.20" y="31.08" font-size="4.30" text-anchor="middle" stroke="#000" stroke-width="0.18">0 Hrs</text>
<text x="290.90" y="31.08" font-size="4.30" text-anchor="middle" stroke="#000" stroke-width="0.18">Control</text>
<text x="340.60" y="31.08" font-size="4.30" text-anchor="middle" stroke="#000" stroke-width="0.18">APRIL</text>
<text x="239.60" y="85.88" font-size="4.30" text-anchor="middle" stroke="#000" stroke-width="0.18">BAFF</text>
<text x="290.20" y="85.88" font-size="4.30" text-anchor="middle" stroke="#000" stroke-width="0.18">IGF-I</text>
<text x="341.20" y="85.88" font-size="4.30" text-anchor="middle" stroke="#000" stroke-width="0.18">IL-6</text>
<line x1="208.90" y1="29.00" x2="208.90" y2="132.20" stroke="#999" stroke-width="0.6"/>
<line x1="208.90" y1="132.20" x2="364.00" y2="132.20" stroke="#999" stroke-width="0.6"/>
<polygon points="208.9,27.6 208.0,30.2 209.8,30.2" fill="#333"/>
<polygon points="365.6,132.2 363.0,131.3 363.0,133.1" fill="#333"/>
<text x="202.00" y="31.91" font-size="3.80" text-anchor="middle" textLength="8.80" lengthAdjust="spacingAndGlyphs" stroke="#000" stroke-width="0.18">Ki67</text>
<text x="205.10" y="21.63" font-size="5.30" text-anchor="start" textLength="77.00" lengthAdjust="spacingAndGlyphs" stroke="#000" stroke-width="0.18">Patient #20 – cyclin D1+ t(11;14)</text>
<text x="349.80" y="138.16" font-size="4.80" text-anchor="middle" textLength="27.20" lengthAdjust="spacingAndGlyphs" stroke="#000" stroke-width="0.18">DNA content</text>
<rect x="33.00" y="182.20" width="35.70" height="35.50" fill="none" stroke="#808080" stroke-width="0.6"/>
<line x1="30.60" y1="217.70" x2="33.00" y2="217.70" stroke="#777" stroke-width="0.45"/>
<text x="30.20" y="218.36" font-size="1.90" text-anchor="end" fill="#777" stroke="#777" stroke-width="0.1">100</text>
<line x1="33.00" y1="217.70" x2="33.00" y2="219.20" stroke="#777" stroke-width="0.45"/>
<text x="33.00" y="221.16" font-size="1.90" text-anchor="middle" fill="#777" stroke="#777" stroke-width="0.1">0</text>
<line x1="30.60" y1="208.82" x2="33.00" y2="208.82" stroke="#777" stroke-width="0.45"/>
<text x="30.20" y="209.48" font-size="1.90" text-anchor="end" fill="#777" stroke="#777" stroke-width="0.1">101</text>
<line x1="41.92" y1="217.70" x2="41.92" y2="219.20" stroke="#777" stroke-width="0.45"/>
<text x="41.92" y="221.16" font-size="1.90" text-anchor="middle" fill="#777" stroke="#777" stroke-width="0.1">50</text>
<line x1="30.60" y1="199.95" x2="33.00" y2="199.95" stroke="#777" stroke-width="0.45"/>
<text x="30.20" y="200.61" font-size="1.90" text-anchor="end" fill="#777" stroke="#777" stroke-width="0.1">102</text>
<line x1="50.85" y1="217.70" x2="50.85" y2="219.20" stroke="#777" stroke-width="0.45"/>
<text x="50.85" y="221.16" font-size="1.90" text-anchor="middle" fill="#777" stroke="#777" stroke-width="0.1">100</text>
<line x1="30.60" y1="191.07" x2="33.00" y2="191.07" stroke="#777" stroke-width="0.45"/>
<text x="30.20" y="191.73" font-size="1.90" text-anchor="end" fill="#777" stroke="#777" stroke-width="0.1">103</text>
<line x1="59.78" y1="217.70" x2="59.78" y2="219.20" stroke="#777" stroke-width="0.45"/>
<text x="59.78" y="221.16" font-size="1.90" text-anchor="middle" fill="#777" stroke="#777" stroke-width="0.1">150</text>
<line x1="30.60" y1="182.20" x2="33.00" y2="182.20" stroke="#777" stroke-width="0.45"/>
<text x="30.20" y="182.86" font-size="1.90" text-anchor="end" fill="#777" stroke="#777" stroke-width="0.1">104</text>
<line x1="68.70" y1="217.70" x2="68.70" y2="219.20" stroke="#777" stroke-width="0.45"/>
<text x="68.70" y="221.16" font-size="1.90" text-anchor="middle" fill="#777" stroke="#777" stroke-width="0.1">200</text>
<text x="27.80" y="202.31" font-size="1.70" text-anchor="middle" transform="rotate(-90 27.80 201.72)" fill="#888" stroke="#888" stroke-width="0.05">Ki67-FITC</text>
<text x="50.85" y="222.99" font-size="1.70" text-anchor="middle" fill="#888" stroke="#888" stroke-width="0.05">FL2-A</text>
<g><path d="M38.7 212.7 43.7 209.9 48.0 207.1 58.1 204.6 52.7 203.5 47.2 203.0 46.9 202.6 45.4 197.2 46.2 195.4 46.1 194.3 45.7 193.8 45.2 193.4 44.5 193.2 43.8 193.3 42.9 194.1 41.4 197.4 36.6 210.1 36.6 211.0 37.0 211.8Z" fill="#c8c8c8" fill-rule="evenodd"/><path d="M38.7 211.7 43.2 209.1 47.6 206.2 54.0 204.8 52.5 204.4 47.4 204.1 46.4 203.5 46.0 202.9 44.5 197.3 44.5 196.9 45.3 195.0 45.1 194.5 44.7 194.2 44.1 194.2 43.7 194.5 42.2 197.8 37.6 210.3 37.5 210.7 37.7 211.1Z" fill="rgb(189,189,189)" fill-rule="evenodd"/><path d="M38.5 210.5 42.7 208.3 47.0 205.5 48.1 205.1 46.4 204.7 45.3 203.7 43.5 197.3Z" fill="rgb(173,173,173)" fill-rule="evenodd"/><path d="M40.3 208.5 45.5 205.3 44.9 204.7 44.4 203.8 43.4 200.3Z" fill="rgb(157,157,157)" fill-rule="evenodd"/><path d="M42.2 206.3 44.0 205.1 43.2 203.5 42.7 205.0Z" fill="rgb(141,141,141)" fill-rule="evenodd"/><path d="M38.7 212.7 43.7 209.9 48.0 207.1 58.1 204.6 52.7 203.5 47.2 203.0 46.9 202.6 45.4 197.2 46.2 195.4 46.1 194.3 45.7 193.8 45.2 193.4 44.5 193.2 43.8 193.3 42.9 194.1 41.4 197.4 36.6 210.1 36.6 211.0 37.0 211.8Z" fill="none" stroke="#555" stroke-width="0.35"/><path d="M38.7 211.7 43.2 209.1 47.6 206.2 54.0 204.8 52.5 204.4 47.4 204.1 46.4 203.5 46.0 202.9 44.5 197.3 44.5 196.9 45.3 195.0 45.1 194.5 44.7 194.2 44.1 194.2 43.7 194.5 42.2 197.8 37.6 210.3 37.5 210.7 37.7 211.1Z" fill="none" stroke="#555" stroke-width="0.35"/><path d="M38.5 210.5 42.7 208.3 47.0 205.5 48.1 205.1 46.4 204.7 45.3 203.7 43.5 197.3Z" fill="none" stroke="#555" stroke-width="0.35"/><path d="M40.3 208.5 45.5 205.3 44.9 204.7 44.4 203.8 43.4 200.3Z" fill="none" stroke="#555" stroke-width="0.35"/><path d="M42.2 206.3 44.0 205.1 43.2 203.5 42.7 205.0Z" fill="none" stroke="#555" stroke-width="0.35"/><path d="M37.5 212.3 38.8 212.9 43.8 210.1 48.1 207.2 48.2 207.0 47.2 206.1 39.0 209.7 37.4 212.1Z" fill="#555"/><path d="M37.5 212.3 38.8 212.9 43.8 210.1 48.1 207.2 48.2 207.0 47.2 206.1 39.0 209.7 37.4 212.1Z" fill="none" stroke="#222" stroke-width="0.35"/><path d="M38.3 212.0 38.7 212.2 43.4 209.5 47.2 207.0 39.4 210.3Z" fill="#383838"/></g>
<rect x="46.57" y="192.85" width="13.07" height="6.03" fill="none" stroke="#808080" stroke-width="0.55"/>
<text x="61.20" y="190.32" font-size="4.00" text-anchor="middle" stroke="#000" stroke-width="0.18">0.5%</text>
<rect x="83.40" y="181.30" width="35.60" height="35.90" fill="none" stroke="#808080" stroke-width="0.6"/>
<line x1="81.00" y1="217.20" x2="83.40" y2="217.20" stroke="#777" stroke-width="0.45"/>
<text x="80.60" y="217.86" font-size="1.90" text-anchor="end" fill="#777" stroke="#777" stroke-width="0.1">100</text>
<line x1="83.40" y1="217.20" x2="83.40" y2="218.70" stroke="#777" stroke-width="0.45"/>
<text x="83.40" y="220.66" font-size="1.90" text-anchor="middle" fill="#777" stroke="#777" stroke-width="0.1">0</text>
<line x1="81.00" y1="208.22" x2="83.40" y2="208.22" stroke="#777" stroke-width="0.45"/>
<text x="80.60" y="208.88" font-size="1.90" text-anchor="end" fill="#777" stroke="#777" stroke-width="0.1">101</text>
<line x1="92.30" y1="217.20" x2="92.30" y2="218.70" stroke="#777" stroke-width="0.45"/>
<text x="92.30" y="220.66" font-size="1.90" text-anchor="middle" fill="#777" stroke="#777" stroke-width="0.1">50</text>
<line x1="81.00" y1="199.25" x2="83.40" y2="199.25" stroke="#777" stroke-width="0.45"/>
<text x="80.60" y="199.91" font-size="1.90" text-anchor="end" fill="#777" stroke="#777" stroke-width="0.1">102</text>
<line x1="101.20" y1="217.20" x2="101.20" y2="218.70" stroke="#777" stroke-width="0.45"/>
<text x="101.20" y="220.66" font-size="1.90" text-anchor="middle" fill="#777" stroke="#777" stroke-width="0.1">100</text>
<line x1="81.00" y1="190.28" x2="83.40" y2="190.28" stroke="#777" stroke-width="0.45"/>
<text x="80.60" y="190.93" font-size="1.90" text-anchor="end" fill="#777" stroke="#777" stroke-width="0.1">103</text>
<line x1="110.10" y1="217.20" x2="110.10" y2="218.70" stroke="#777" stroke-width="0.45"/>
<text x="110.10" y="220.66" font-size="1.90" text-anchor="middle" fill="#777" stroke="#777" stroke-width="0.1">150</text>
<line x1="81.00" y1="181.30" x2="83.40" y2="181.30" stroke="#777" stroke-width="0.45"/>
<text x="80.60" y="181.96" font-size="1.90" text-anchor="end" fill="#777" stroke="#777" stroke-width="0.1">104</text>
<line x1="119.00" y1="217.20" x2="119.00" y2="218.70" stroke="#777" stroke-width="0.45"/>
<text x="119.00" y="220.66" font-size="1.90" text-anchor="middle" fill="#777" stroke="#777" stroke-width="0.1">200</text>
<text x="78.20" y="201.63" font-size="1.70" text-anchor="middle" transform="rotate(-90 78.20 201.05)" fill="#888" stroke="#888" stroke-width="0.05">Ki67-FITC</text>
<text x="101.20" y="222.49" font-size="1.70" text-anchor="middle" fill="#888" stroke="#888" stroke-width="0.05">FL2-A</text>
<g><path d="M90.5 210.7 95.5 207.2 103.9 205.6 103.9 203.9 95.8 203.9 95.3 203.8 95.0 203.3 94.1 199.2 95.0 195.0 95.3 194.2 99.4 192.8 104.0 190.6 99.4 189.9 94.4 190.1 94.3 190.3 93.3 190.5 92.6 191.0 90.6 196.9 89.2 203.1 87.3 209.1 87.5 210.1 88.2 210.9 89.3 211.1Z" fill="#d0d0d0" fill-rule="evenodd"/><path d="M90.2 209.8 95.2 206.3 102.6 204.9 95.7 204.9 94.9 204.6 94.1 203.7 93.2 199.5 94.0 194.8 94.6 193.6 95.2 193.2 99.1 191.9 100.8 191.1 99.4 190.9 94.9 191.1 93.8 191.3 93.4 191.7 91.5 197.2 90.1 203.3 88.3 209.1 88.4 209.7 88.9 210.1Z" fill="rgb(189,189,189)" fill-rule="evenodd"/><path d="M89.3 209.0 89.9 208.8 94.6 205.5 93.8 204.9 93.3 204.1 92.3 199.8 92.2 198.9 92.7 196.7 91.0 203.7ZM93.9 192.9 94.7 192.4 95.9 192.0 94.2 192.2Z" fill="rgb(173,173,173)" fill-rule="evenodd"/><path d="M91.0 206.9 93.0 205.5 92.4 204.5 92.1 203.2Z" fill="rgb(157,157,157)" fill-rule="evenodd"/><path d="M90.5 210.7 95.5 207.2 103.9 205.6 103.9 203.9 95.8 203.9 95.3 203.8 95.0 203.3 94.1 199.2 95.0 195.0 95.3 194.2 99.4 192.8 104.0 190.6 99.4 189.9 94.4 190.1 94.3 190.3 93.3 190.5 92.6 191.0 90.6 196.9 89.2 203.1 87.3 209.1 87.5 210.1 88.2 210.9 89.3 211.1Z" fill="none" stroke="#555" stroke-width="0.35"/><path d="M90.2 209.8 95.2 206.3 102.6 204.9 95.7 204.9 94.9 204.6 94.1 203.7 93.2 199.5 94.0 194.8 94.6 193.6 95.2 193.2 99.1 191.9 100.8 191.1 99.4 190.9 94.9 191.1 93.8 191.3 93.4 191.7 91.5 197.2 90.1 203.3 88.3 209.1 88.4 209.7 88.9 210.1Z" fill="none" stroke="#555" stroke-width="0.35"/><path d="M89.3 209.0 89.9 208.8 94.6 205.5 93.8 204.9 93.3 204.1 92.3 199.8 92.2 198.9 92.7 196.7 91.0 203.7ZM93.9 192.9 94.7 192.4 95.9 192.0 94.2 192.2Z" fill="none" stroke="#555" stroke-width="0.35"/><path d="M91.0 206.9 93.0 205.5 92.4 204.5 92.1 203.2Z" fill="none" stroke="#555" stroke-width="0.35"/><path d="M88.0 210.9 90.6 211.3 96.0 207.3 95.7 206.0 95.5 206.0 89.3 208.4 87.9 210.6Z" fill="#555"/><path d="M88.0 210.9 90.6 211.3 96.0 207.3 95.7 206.0 95.5 206.0 89.3 208.4 87.9 210.6Z" fill="none" stroke="#222" stroke-width="0.35"/><path d="M88.9 210.4 90.4 210.6 95.3 207.0 95.2 206.8 89.8 209.0Z" fill="#383838"/></g>
<rect x="94.44" y="189.27" width="10.54" height="6.61" fill="none" stroke="#808080" stroke-width="0.55"/>
<text x="107.96" y="187.99" font-size="4.00" text-anchor="middle" stroke="#000" stroke-width="0.18">1.5%</text>
<rect x="132.60" y="180.80" width="35.30" height="36.10" fill="none" stroke="#808080" stroke-width="0.6"/>
<line x1="130.20" y1="216.90" x2="132.60" y2="216.90" stroke="#777" stroke-width="0.45"/>
<text x="129.80" y="217.56" font-size="1.90" text-anchor="end" fill="#777" stroke="#777" stroke-width="0.1">100</text>
<line x1="132.60" y1="216.90" x2="132.60" y2="218.40" stroke="#777" stroke-width="0.45"/>
<text x="132.60" y="220.36" font-size="1.90" text-anchor="middle" fill="#777" stroke="#777" stroke-width="0.1">0</text>
<line x1="130.20" y1="207.88" x2="132.60" y2="207.88" stroke="#777" stroke-width="0.45"/>
<text x="129.80" y="208.53" font-size="1.90" text-anchor="end" fill="#777" stroke="#777" stroke-width="0.1">101</text>
<line x1="141.43" y1="216.90" x2="141.43" y2="218.40" stroke="#777" stroke-width="0.45"/>
<text x="141.43" y="220.36" font-size="1.90" text-anchor="middle" fill="#777" stroke="#777" stroke-width="0.1">50</text>
<line x1="130.20" y1="198.85" x2="132.60" y2="198.85" stroke="#777" stroke-width="0.45"/>
<text x="129.80" y="199.51" font-size="1.90" text-anchor="end" fill="#777" stroke="#777" stroke-width="0.1">102</text>
<line x1="150.25" y1="216.90" x2="150.25" y2="218.40" stroke="#777" stroke-width="0.45"/>
<text x="150.25" y="220.36" font-size="1.90" text-anchor="middle" fill="#777" stroke="#777" stroke-width="0.1">100</text>
<line x1="130.20" y1="189.83" x2="132.60" y2="189.83" stroke="#777" stroke-width="0.45"/>
<text x="129.80" y="190.48" font-size="1.90" text-anchor="end" fill="#777" stroke="#777" stroke-width="0.1">103</text>
<line x1="159.07" y1="216.90" x2="159.07" y2="218.40" stroke="#777" stroke-width="0.45"/>
<text x="159.07" y="220.36" font-size="1.90" text-anchor="middle" fill="#777" stroke="#777" stroke-width="0.1">150</text>
<line x1="130.20" y1="180.80" x2="132.60" y2="180.80" stroke="#777" stroke-width="0.45"/>
<text x="129.80" y="181.46" font-size="1.90" text-anchor="end" fill="#777" stroke="#777" stroke-width="0.1">104</text>
<line x1="167.90" y1="216.90" x2="167.90" y2="218.40" stroke="#777" stroke-width="0.45"/>
<text x="167.90" y="220.36" font-size="1.90" text-anchor="middle" fill="#777" stroke="#777" stroke-width="0.1">200</text>
<text x="127.40" y="201.24" font-size="1.70" text-anchor="middle" transform="rotate(-90 127.40 200.66)" fill="#888" stroke="#888" stroke-width="0.05">Ki67-FITC</text>
<text x="150.25" y="222.19" font-size="1.70" text-anchor="middle" fill="#888" stroke="#888" stroke-width="0.05">FL2-A</text>
<g><path d="M135.6 211.2 137.5 211.7 142.2 209.5 148.9 207.8 155.5 204.5 145.2 206.1 144.6 205.9 144.4 205.4 143.9 200.1 144.5 195.8 149.9 191.9 152.7 190.2 150.2 189.6 149.7 188.9 149.1 188.5 148.0 188.5 146.1 189.7 143.3 190.7 140.0 193.5 138.4 197.9 136.7 205.5 135.1 209.3 135.1 210.2Z" fill="#d6d6d6" fill-rule="evenodd"/><path d="M136.4 210.4 137.4 210.7 142.0 208.6 148.5 206.9 149.7 206.3 145.2 207.0 144.5 206.9 144.0 206.6 143.4 205.5 143.0 200.2 143.4 196.0 143.7 195.3 144.2 194.7 150.2 190.6 149.5 190.3 148.9 189.5 148.2 189.4 146.5 190.5 143.8 191.6 140.8 194.1 139.3 198.2 137.6 205.8 136.1 209.4 136.1 210.0Z" fill="rgb(189,189,189)" fill-rule="evenodd"/><path d="M137.3 209.7 141.5 207.7 143.3 207.3 142.8 206.6 142.5 205.8 142.0 200.4 142.6 195.4 143.4 194.2 148.5 190.6 148.4 190.4 146.9 191.4 144.3 192.4 141.6 194.6 140.2 198.4 138.5 206.1 137.0 209.6Z" fill="rgb(173,173,173)" fill-rule="evenodd"/><path d="M138.8 208.0 141.8 206.7 141.5 205.7 141.1 200.4 141.2 198.3 139.5 206.1Z" fill="rgb(157,157,157)" fill-rule="evenodd"/><path d="M135.6 211.2 137.5 211.7 142.2 209.5 148.9 207.8 155.5 204.5 145.2 206.1 144.6 205.9 144.4 205.4 143.9 200.1 144.5 195.8 149.9 191.9 152.7 190.2 150.2 189.6 149.7 188.9 149.1 188.5 148.0 188.5 146.1 189.7 143.3 190.7 140.0 193.5 138.4 197.9 136.7 205.5 135.1 209.3 135.1 210.2Z" fill="none" stroke="#555" stroke-width="0.35"/><path d="M136.4 210.4 137.4 210.7 142.0 208.6 148.5 206.9 149.7 206.3 145.2 207.0 144.5 206.9 144.0 206.6 143.4 205.5 143.0 200.2 143.4 196.0 143.7 195.3 144.2 194.7 150.2 190.6 149.5 190.3 148.9 189.5 148.2 189.4 146.5 190.5 143.8 191.6 140.8 194.1 139.3 198.2 137.6 205.8 136.1 209.4 136.1 210.0Z" fill="none" stroke="#555" stroke-width="0.35"/><path d="M137.3 209.7 141.5 207.7 143.3 207.3 142.8 206.6 142.5 205.8 142.0 200.4 142.6 195.4 143.4 194.2 148.5 190.6 148.4 190.4 146.9 191.4 144.3 192.4 141.6 194.6 140.2 198.4 138.5 206.1 137.0 209.6Z" fill="none" stroke="#555" stroke-width="0.35"/><path d="M138.8 208.0 141.8 206.7 141.5 205.7 141.1 200.4 141.2 198.3 139.5 206.1Z" fill="none" stroke="#555" stroke-width="0.35"/><path d="M135.6 211.3 137.6 211.7 144.7 206.9 144.4 204.5 144.2 204.4 136.7 206.6 135.4 211.1Z" fill="#555"/><path d="M135.6 211.3 137.6 211.7 144.7 206.9 144.4 204.5 144.2 204.4 136.7 206.6 135.4 211.1Z" fill="none" stroke="#222" stroke-width="0.35"/><path d="M136.2 210.7 137.4 211.0 144.1 206.6 143.8 205.3 137.2 207.2Z" fill="#383838"/></g>
<rect x="144.21" y="189.07" width="12.18" height="7.18" fill="none" stroke="#808080" stroke-width="0.55"/>
<text x="160.13" y="187.38" font-size="4.00" text-anchor="middle" stroke="#000" stroke-width="0.18">10.3%</text>
<rect x="32.90" y="232.10" width="36.50" height="36.10" fill="none" stroke="#808080" stroke-width="0.6"/>
<line x1="30.50" y1="268.20" x2="32.90" y2="268.20" stroke="#777" stroke-width="0.45"/>
<text x="30.10" y="268.86" font-size="1.90" text-anchor="end" fill="#777" stroke="#777" stroke-width="0.1">100</text>
<line x1="32.90" y1="268.20" x2="32.90" y2="269.70" stroke="#777" stroke-width="0.45"/>
<text x="32.90" y="271.66" font-size="1.90" text-anchor="middle" fill="#777" stroke="#777" stroke-width="0.1">0</text>
<line x1="30.50" y1="259.18" x2="32.90" y2="259.18" stroke="#777" stroke-width="0.45"/>
<text x="30.10" y="259.83" font-size="1.90" text-anchor="end" fill="#777" stroke="#777" stroke-width="0.1">101</text>
<line x1="42.02" y1="268.20" x2="42.02" y2="269.70" stroke="#777" stroke-width="0.45"/>
<text x="42.02" y="271.66" font-size="1.90" text-anchor="middle" fill="#777" stroke="#777" stroke-width="0.1">50</text>
<line x1="30.50" y1="250.15" x2="32.90" y2="250.15" stroke="#777" stroke-width="0.45"/>
<text x="30.10" y="250.81" font-size="1.90" text-anchor="end" fill="#777" stroke="#777" stroke-width="0.1">102</text>
<line x1="51.15" y1="268.20" x2="51.15" y2="269.70" stroke="#777" stroke-width="0.45"/>
<text x="51.15" y="271.66" font-size="1.90" text-anchor="middle" fill="#777" stroke="#777" stroke-width="0.1">100</text>
<line x1="30.50" y1="241.12" x2="32.90" y2="241.12" stroke="#777" stroke-width="0.45"/>
<text x="30.10" y="241.78" font-size="1.90" text-anchor="end" fill="#777" stroke="#777" stroke-width="0.1">103</text>
<line x1="60.28" y1="268.20" x2="60.28" y2="269.70" stroke="#777" stroke-width="0.45"/>
<text x="60.28" y="271.66" font-size="1.90" text-anchor="middle" fill="#777" stroke="#777" stroke-width="0.1">150</text>
<line x1="30.50" y1="232.10" x2="32.90" y2="232.10" stroke="#777" stroke-width="0.45"/>
<text x="30.10" y="232.76" font-size="1.90" text-anchor="end" fill="#777" stroke="#777" stroke-width="0.1">104</text>
<line x1="69.40" y1="268.20" x2="69.40" y2="269.70" stroke="#777" stroke-width="0.45"/>
<text x="69.40" y="271.66" font-size="1.90" text-anchor="middle" fill="#777" stroke="#777" stroke-width="0.1">200</text>
<text x="27.70" y="252.54" font-size="1.70" text-anchor="middle" transform="rotate(-90 27.70 251.95)" fill="#888" stroke="#888" stroke-width="0.05">Ki67-FITC</text>
<text x="51.15" y="273.49" font-size="1.70" text-anchor="middle" fill="#888" stroke="#888" stroke-width="0.05">FL2-A</text>
<g><path d="M45.6 258.8 52.8 255.5 44.1 255.5 43.7 255.3 43.4 254.9 43.4 247.8 47.9 240.6 43.4 240.6 42.9 241.1 41.8 241.7 41.2 242.8 40.6 243.4 39.0 247.8 38.7 249.9 37.7 254.0 35.9 260.5 35.9 261.4 36.1 262.0 36.7 262.5 37.3 262.8 38.0 262.8Z" fill="#d6d6d6" fill-rule="evenodd"/><path d="M37.9 261.8 48.5 256.4 43.8 256.4 42.9 255.9 42.5 255.0 42.5 247.5 46.2 241.5 43.8 241.5 42.5 242.3 42.0 243.3 41.5 243.9 39.9 248.0 39.6 250.1 38.6 254.2 36.8 260.8 36.9 261.4 37.3 261.8Z" fill="rgb(189,189,189)" fill-rule="evenodd"/><path d="M37.8 260.7 44.2 257.4 43.3 257.2 42.6 256.8 41.9 256.1 41.6 255.4 41.5 247.9 41.9 246.7 44.6 242.5 44.2 242.5 43.2 243.0 42.8 243.8 42.3 244.4 40.8 248.2 39.6 254.5Z" fill="rgb(173,173,173)" fill-rule="evenodd"/><path d="M39.3 258.8 41.9 257.5 40.9 256.2 40.6 254.3Z" fill="rgb(157,157,157)" fill-rule="evenodd"/><path d="M45.6 258.8 52.8 255.5 44.1 255.5 43.7 255.3 43.4 254.9 43.4 247.8 47.9 240.6 43.4 240.6 42.9 241.1 41.8 241.7 41.2 242.8 40.6 243.4 39.0 247.8 38.7 249.9 37.7 254.0 35.9 260.5 35.9 261.4 36.1 262.0 36.7 262.5 37.3 262.8 38.0 262.8Z" fill="none" stroke="#555" stroke-width="0.35"/><path d="M37.9 261.8 48.5 256.4 43.8 256.4 42.9 255.9 42.5 255.0 42.5 247.5 46.2 241.5 43.8 241.5 42.5 242.3 42.0 243.3 41.5 243.9 39.9 248.0 39.6 250.1 38.6 254.2 36.8 260.8 36.9 261.4 37.3 261.8Z" fill="none" stroke="#555" stroke-width="0.35"/><path d="M37.8 260.7 44.2 257.4 43.3 257.2 42.6 256.8 41.9 256.1 41.6 255.4 41.5 247.9 41.9 246.7 44.6 242.5 44.2 242.5 43.2 243.0 42.8 243.8 42.3 244.4 40.8 248.2 39.6 254.5Z" fill="none" stroke="#555" stroke-width="0.35"/><path d="M39.3 258.8 41.9 257.5 40.9 256.2 40.6 254.3Z" fill="none" stroke="#555" stroke-width="0.35"/><path d="M36.6 262.3 39.2 262.2 45.8 259.0 46.2 256.6 46.0 256.5 37.9 257.9 36.4 262.0Z" fill="#555"/><path d="M36.6 262.3 39.2 262.2 45.8 259.0 46.2 256.6 46.0 256.5 37.9 257.9 36.4 262.0Z" fill="none" stroke="#222" stroke-width="0.35"/><path d="M37.3 261.6 39.0 261.6 45.2 258.5 45.4 257.3 38.4 258.5Z" fill="#383838"/></g>
<rect x="44.51" y="239.50" width="11.61" height="7.73" fill="none" stroke="#808080" stroke-width="0.55"/>
<text x="61.66" y="237.88" font-size="4.00" text-anchor="middle" stroke="#000" stroke-width="0.18">2.4%</text>
<rect x="83.40" y="231.80" width="36.70" height="36.10" fill="none" stroke="#808080" stroke-width="0.6"/>
<line x1="81.00" y1="267.90" x2="83.40" y2="267.90" stroke="#777" stroke-width="0.45"/>
<text x="80.60" y="268.56" font-size="1.90" text-anchor="end" fill="#777" stroke="#777" stroke-width="0.1">100</text>
<line x1="83.40" y1="267.90" x2="83.40" y2="269.40" stroke="#777" stroke-width="0.45"/>
<text x="83.40" y="271.36" font-size="1.90" text-anchor="middle" fill="#777" stroke="#777" stroke-width="0.1">0</text>
<line x1="81.00" y1="258.88" x2="83.40" y2="258.88" stroke="#777" stroke-width="0.45"/>
<text x="80.60" y="259.53" font-size="1.90" text-anchor="end" fill="#777" stroke="#777" stroke-width="0.1">101</text>
<line x1="92.58" y1="267.90" x2="92.58" y2="269.40" stroke="#777" stroke-width="0.45"/>
<text x="92.58" y="271.36" font-size="1.90" text-anchor="middle" fill="#777" stroke="#777" stroke-width="0.1">50</text>
<line x1="81.00" y1="249.85" x2="83.40" y2="249.85" stroke="#777" stroke-width="0.45"/>
<text x="80.60" y="250.51" font-size="1.90" text-anchor="end" fill="#777" stroke="#777" stroke-width="0.1">102</text>
<line x1="101.75" y1="267.90" x2="101.75" y2="269.40" stroke="#777" stroke-width="0.45"/>
<text x="101.75" y="271.36" font-size="1.90" text-anchor="middle" fill="#777" stroke="#777" stroke-width="0.1">100</text>
<line x1="81.00" y1="240.82" x2="83.40" y2="240.82" stroke="#777" stroke-width="0.45"/>
<text x="80.60" y="241.48" font-size="1.90" text-anchor="end" fill="#777" stroke="#777" stroke-width="0.1">103</text>
<line x1="110.92" y1="267.90" x2="110.92" y2="269.40" stroke="#777" stroke-width="0.45"/>
<text x="110.92" y="271.36" font-size="1.90" text-anchor="middle" fill="#777" stroke="#777" stroke-width="0.1">150</text>
<line x1="81.00" y1="231.80" x2="83.40" y2="231.80" stroke="#777" stroke-width="0.45"/>
<text x="80.60" y="232.46" font-size="1.90" text-anchor="end" fill="#777" stroke="#777" stroke-width="0.1">104</text>
<line x1="120.10" y1="267.90" x2="120.10" y2="269.40" stroke="#777" stroke-width="0.45"/>
<text x="120.10" y="271.36" font-size="1.90" text-anchor="middle" fill="#777" stroke="#777" stroke-width="0.1">200</text>
<text x="78.20" y="252.24" font-size="1.70" text-anchor="middle" transform="rotate(-90 78.20 251.66)" fill="#888" stroke="#888" stroke-width="0.05">Ki67-FITC</text>
<text x="101.75" y="273.19" font-size="1.70" text-anchor="middle" fill="#888" stroke="#888" stroke-width="0.05">FL2-A</text>
<g><path d="M90.0 261.0 97.8 258.3 105.5 255.0 95.4 254.9 94.9 254.4 94.4 251.2 95.5 246.0 95.8 245.5 97.6 244.6 102.7 243.1 103.4 242.3 103.6 241.2 104.4 240.6 103.4 240.8 102.8 240.1 101.8 239.7 97.2 240.9 95.0 240.6 91.7 242.8 89.5 246.7 89.1 252.3 86.7 259.7 87.0 260.9 87.8 261.6 89.0 261.7Z" fill="#d6d6d6" fill-rule="evenodd"/><path d="M89.7 260.1 97.4 257.4 100.9 255.9 95.6 255.9 94.7 255.6 94.0 254.7 93.5 251.0 94.5 245.7 95.0 244.9 97.2 243.7 102.2 242.3 102.6 241.6 102.3 240.8 101.6 240.7 97.3 241.8 95.2 241.6 92.4 243.5 90.4 247.0 90.0 252.5 87.7 259.8 87.8 260.5 88.4 260.8 88.9 260.8Z" fill="rgb(189,189,189)" fill-rule="evenodd"/><path d="M88.7 259.7 89.3 259.3 96.1 256.9 94.5 256.6 93.3 255.5 93.0 254.7 92.5 251.0 93.8 244.9 94.7 243.9 97.0 242.8 95.5 242.6 93.1 244.2 91.4 247.3 91.0 252.7Z" fill="rgb(173,173,173)" fill-rule="evenodd"/><path d="M90.3 257.9 93.2 256.9 92.3 255.6 91.8 253.2Z" fill="rgb(157,157,157)" fill-rule="evenodd"/><path d="M90.0 261.0 97.8 258.3 105.5 255.0 95.4 254.9 94.9 254.4 94.4 251.2 95.5 246.0 95.8 245.5 97.6 244.6 102.7 243.1 103.4 242.3 103.6 241.2 104.4 240.6 103.4 240.8 102.8 240.1 101.8 239.7 97.2 240.9 95.0 240.6 91.7 242.8 89.5 246.7 89.1 252.3 86.7 259.7 87.0 260.9 87.8 261.6 89.0 261.7Z" fill="none" stroke="#555" stroke-width="0.35"/><path d="M89.7 260.1 97.4 257.4 100.9 255.9 95.6 255.9 94.7 255.6 94.0 254.7 93.5 251.0 94.5 245.7 95.0 244.9 97.2 243.7 102.2 242.3 102.6 241.6 102.3 240.8 101.6 240.7 97.3 241.8 95.2 241.6 92.4 243.5 90.4 247.0 90.0 252.5 87.7 259.8 87.8 260.5 88.4 260.8 88.9 260.8Z" fill="none" stroke="#555" stroke-width="0.35"/><path d="M88.7 259.7 89.3 259.3 96.1 256.9 94.5 256.6 93.3 255.5 93.0 254.7 92.5 251.0 93.8 244.9 94.7 243.9 97.0 242.8 95.5 242.6 93.1 244.2 91.4 247.3 91.0 252.7Z" fill="none" stroke="#555" stroke-width="0.35"/><path d="M90.3 257.9 93.2 256.9 92.3 255.6 91.8 253.2Z" fill="none" stroke="#555" stroke-width="0.35"/><path d="M87.8 261.2 90.1 261.2 97.4 258.0 97.5 257.7 96.6 256.1 89.2 257.6 87.6 261.0Z" fill="#555"/><path d="M87.8 261.2 90.1 261.2 97.4 258.0 97.5 257.7 96.6 256.1 89.2 257.6 87.6 261.0Z" fill="none" stroke="#222" stroke-width="0.35"/><path d="M88.6 260.5 89.9 260.5 96.7 257.5 96.3 256.9 89.6 258.2Z" fill="#383838"/></g>
<rect x="96.10" y="239.53" width="9.95" height="6.97" fill="none" stroke="#808080" stroke-width="0.55"/>
<text x="113.49" y="237.87" font-size="4.00" text-anchor="middle" stroke="#000" stroke-width="0.18">2.8%</text>
<rect x="132.40" y="232.20" width="36.70" height="36.20" fill="none" stroke="#808080" stroke-width="0.6"/>
<line x1="130.00" y1="268.40" x2="132.40" y2="268.40" stroke="#777" stroke-width="0.45"/>
<text x="129.60" y="269.06" font-size="1.90" text-anchor="end" fill="#777" stroke="#777" stroke-width="0.1">100</text>
<line x1="132.40" y1="268.40" x2="132.40" y2="269.90" stroke="#777" stroke-width="0.45"/>
<text x="132.40" y="271.86" font-size="1.90" text-anchor="middle" fill="#777" stroke="#777" stroke-width="0.1">0</text>
<line x1="130.00" y1="259.35" x2="132.40" y2="259.35" stroke="#777" stroke-width="0.45"/>
<text x="129.60" y="260.01" font-size="1.90" text-anchor="end" fill="#777" stroke="#777" stroke-width="0.1">101</text>
<line x1="141.57" y1="268.40" x2="141.57" y2="269.90" stroke="#777" stroke-width="0.45"/>
<text x="141.57" y="271.86" font-size="1.90" text-anchor="middle" fill="#777" stroke="#777" stroke-width="0.1">50</text>
<line x1="130.00" y1="250.30" x2="132.40" y2="250.30" stroke="#777" stroke-width="0.45"/>
<text x="129.60" y="250.96" font-size="1.90" text-anchor="end" fill="#777" stroke="#777" stroke-width="0.1">102</text>
<line x1="150.75" y1="268.40" x2="150.75" y2="269.90" stroke="#777" stroke-width="0.45"/>
<text x="150.75" y="271.86" font-size="1.90" text-anchor="middle" fill="#777" stroke="#777" stroke-width="0.1">100</text>
<line x1="130.00" y1="241.25" x2="132.40" y2="241.25" stroke="#777" stroke-width="0.45"/>
<text x="129.60" y="241.91" font-size="1.90" text-anchor="end" fill="#777" stroke="#777" stroke-width="0.1">103</text>
<line x1="159.93" y1="268.40" x2="159.93" y2="269.90" stroke="#777" stroke-width="0.45"/>
<text x="159.93" y="271.86" font-size="1.90" text-anchor="middle" fill="#777" stroke="#777" stroke-width="0.1">150</text>
<line x1="130.00" y1="232.20" x2="132.40" y2="232.20" stroke="#777" stroke-width="0.45"/>
<text x="129.60" y="232.86" font-size="1.90" text-anchor="end" fill="#777" stroke="#777" stroke-width="0.1">104</text>
<line x1="169.10" y1="268.40" x2="169.10" y2="269.90" stroke="#777" stroke-width="0.45"/>
<text x="169.10" y="271.86" font-size="1.90" text-anchor="middle" fill="#777" stroke="#777" stroke-width="0.1">200</text>
<text x="127.20" y="252.70" font-size="1.70" text-anchor="middle" transform="rotate(-90 127.20 252.11)" fill="#888" stroke="#888" stroke-width="0.05">Ki67-FITC</text>
<text x="150.75" y="273.69" font-size="1.70" text-anchor="middle" fill="#888" stroke="#888" stroke-width="0.05">FL2-A</text>
<g><path d="M140.6 260.3 150.7 257.5 154.4 255.1 146.3 256.6 145.7 256.4 145.4 255.9 146.4 249.1 154.4 244.5 154.5 244.1 155.6 243.3 156.2 242.2 156.2 241.2 155.9 240.2 155.2 239.5 154.3 239.1 153.5 239.0 144.3 240.7 143.5 241.2 138.5 245.7 138.0 246.9 137.2 253.4 135.4 259.7 135.4 261.0 135.8 261.9 136.5 262.6 137.5 263.0 138.2 263.0 138.9 262.8 139.8 262.2 140.3 261.4Z" fill="#d6d6d6" fill-rule="evenodd"/><path d="M139.3 246.3 138.9 247.2 138.1 253.6 136.3 260.3 136.4 260.9 136.7 261.5 137.2 261.9 137.8 262.0 138.6 261.9 139.1 261.6 139.8 259.9 140.2 259.5 148.2 257.2 145.8 257.5 145.0 257.1 144.5 256.4 144.5 255.8 145.5 248.8 146.2 248.0 153.5 243.9 153.9 243.3 154.7 242.9 155.1 242.4 155.3 241.8 155.2 241.2 154.6 240.3 153.6 240.0 144.8 241.5 144.1 241.9Z" fill="rgb(189,189,189)" fill-rule="evenodd"/><path d="M140.0 247.0 139.8 247.4 139.1 253.8 137.2 260.3 137.4 260.8 137.8 261.1 138.4 260.8 138.9 259.4 139.6 258.7 144.0 257.4 143.6 256.6 143.5 255.7 144.5 248.9 145.0 247.8 145.8 247.2 152.8 243.3 153.2 242.6 154.2 242.0 154.3 241.4 154.1 241.1 153.6 240.9 145.0 242.4Z" fill="rgb(173,173,173)" fill-rule="evenodd"/><path d="M138.9 258.1 140.3 257.4 142.7 256.7 142.6 255.6 143.5 248.9 143.7 248.1 144.3 247.1 145.3 246.4 152.1 242.6 152.4 242.1 145.4 243.3 140.7 247.5 140.0 254.0Z" fill="rgb(157,157,157)" fill-rule="evenodd"/><path d="M140.3 256.4 141.6 256.0 142.6 248.8 143.1 247.3 144.3 245.9 147.8 243.9 145.8 244.2 141.6 248.0 140.9 254.2Z" fill="rgb(141,141,141)" fill-rule="evenodd"/><path d="M137.8 256.5 140.0 259.4 140.5 259.6 145.3 256.5 145.5 256.2 146.5 248.5 154.1 244.6 155.0 240.8 154.9 240.3 154.4 240.1 145.4 240.7 138.6 245.5 138.4 245.9 137.7 256.0Z" fill="#7a7a7a"/><path d="M140.6 260.3 150.7 257.5 154.4 255.1 146.3 256.6 145.7 256.4 145.4 255.9 146.4 249.1 154.4 244.5 154.5 244.1 155.6 243.3 156.2 242.2 156.2 241.2 155.9 240.2 155.2 239.5 154.3 239.1 153.5 239.0 144.3 240.7 143.5 241.2 138.5 245.7 138.0 246.9 137.2 253.4 135.4 259.7 135.4 261.0 135.8 261.9 136.5 262.6 137.5 263.0 138.2 263.0 138.9 262.8 139.8 262.2 140.3 261.4Z" fill="none" stroke="#555" stroke-width="0.35"/><path d="M139.3 246.3 138.9 247.2 138.1 253.6 136.3 260.3 136.4 260.9 136.7 261.5 137.2 261.9 137.8 262.0 138.6 261.9 139.1 261.6 139.8 259.9 140.2 259.5 148.2 257.2 145.8 257.5 145.0 257.1 144.5 256.4 144.5 255.8 145.5 248.8 146.2 248.0 153.5 243.9 153.9 243.3 154.7 242.9 155.1 242.4 155.3 241.8 155.2 241.2 154.6 240.3 153.6 240.0 144.8 241.5 144.1 241.9Z" fill="none" stroke="#555" stroke-width="0.35"/><path d="M140.0 247.0 139.8 247.4 139.1 253.8 137.2 260.3 137.4 260.8 137.8 261.1 138.4 260.8 138.9 259.4 139.6 258.7 144.0 257.4 143.6 256.6 143.5 255.7 144.5 248.9 145.0 247.8 145.8 247.2 152.8 243.3 153.2 242.6 154.2 242.0 154.3 241.4 154.1 241.1 153.6 240.9 145.0 242.4Z" fill="none" stroke="#555" stroke-width="0.35"/><path d="M138.9 258.1 140.3 257.4 142.7 256.7 142.6 255.6 143.5 248.9 143.7 248.1 144.3 247.1 145.3 246.4 152.1 242.6 152.4 242.1 145.4 243.3 140.7 247.5 140.0 254.0Z" fill="none" stroke="#555" stroke-width="0.35"/><path d="M140.3 256.4 141.6 256.0 142.6 248.8 143.1 247.3 144.3 245.9 147.8 243.9 145.8 244.2 141.6 248.0 140.9 254.2Z" fill="none" stroke="#555" stroke-width="0.35"/><path d="M136.9 262.0 141.3 260.3 146.5 257.7 146.5 257.5 145.8 256.0 145.6 255.9 137.8 258.1 136.6 261.7Z" fill="#555"/><path d="M136.9 262.0 141.3 260.3 146.5 257.7 146.5 257.5 145.8 256.0 145.6 255.9 137.8 258.1 136.6 261.7Z" fill="none" stroke="#222" stroke-width="0.35"/><path d="M137.6 260.9 141.0 259.6 145.7 257.3 145.4 256.7 138.3 258.7Z" fill="#383838"/></g>
<rect x="145.10" y="239.95" width="12.73" height="7.42" fill="none" stroke="#808080" stroke-width="0.55"/>
<text x="160.81" y="237.34" font-size="4.00" text-anchor="middle" stroke="#000" stroke-width="0.18">20.5%</text>
<text x="50.90" y="179.28" font-size="4.30" text-anchor="middle" stroke="#000" stroke-width="0.18">0 Hrs</text>
<text x="101.60" y="179.28" font-size="4.30" text-anchor="middle" stroke="#000" stroke-width="0.18">Control</text>
<text x="150.80" y="179.28" font-size="4.30" text-anchor="middle" stroke="#000" stroke-width="0.18">APRIL</text>
<text x="50.90" y="229.38" font-size="4.30" text-anchor="middle" stroke="#000" stroke-width="0.18">BAFF</text>
<text x="101.60" y="229.38" font-size="4.30" text-anchor="middle" stroke="#000" stroke-width="0.18">IGF-I</text>
<text x="150.80" y="229.38" font-size="4.30" text-anchor="middle" stroke="#000" stroke-width="0.18">IL-6</text>
<line x1="23.20" y1="177.50" x2="23.20" y2="275.90" stroke="#999" stroke-width="0.6"/>
<line x1="23.20" y1="275.90" x2="171.00" y2="275.90" stroke="#999" stroke-width="0.6"/>
<polygon points="23.2,176.2 22.3,178.8 24.1,178.8" fill="#333"/>
<polygon points="172.6,275.9 170.0,275.0 170.0,276.8" fill="#333"/>
<text x="16.60" y="179.38" font-size="3.70" text-anchor="middle" textLength="8.50" lengthAdjust="spacingAndGlyphs" stroke="#000" stroke-width="0.18">Ki67</text>
<text x="13.50" y="169.66" font-size="5.10" text-anchor="start" textLength="71.60" lengthAdjust="spacingAndGlyphs" stroke="#000" stroke-width="0.18">Patient #1 – Cyclin D2+ t(14;16)</text>
<text x="159.40" y="282.06" font-size="4.80" text-anchor="middle" textLength="26.40" lengthAdjust="spacingAndGlyphs" stroke="#000" stroke-width="0.18">DNA Content</text>
<line x1="405.50" y1="30.00" x2="405.50" y2="95.10" stroke="#000" stroke-width="1.0"/>
<line x1="405.50" y1="95.10" x2="504.20" y2="95.10" stroke="#000" stroke-width="1.0"/>
<line x1="404.00" y1="95.10" x2="405.50" y2="95.10" stroke="#000" stroke-width="0.7"/>
<text x="403.10" y="96.79" font-size="4.90" text-anchor="end" textLength="2.40" lengthAdjust="spacingAndGlyphs" stroke="#000" stroke-width="0.18">0</text>
<line x1="404.00" y1="82.15" x2="405.50" y2="82.15" stroke="#000" stroke-width="0.7"/>
<text x="403.10" y="83.84" font-size="4.90" text-anchor="end" textLength="2.40" lengthAdjust="spacingAndGlyphs" stroke="#000" stroke-width="0.18">5</text>
<line x1="404.00" y1="69.20" x2="405.50" y2="69.20" stroke="#000" stroke-width="0.7"/>
<text x="403.10" y="70.89" font-size="4.90" text-anchor="end" textLength="4.60" lengthAdjust="spacingAndGlyphs" stroke="#000" stroke-width="0.18">10</text>
<line x1="404.00" y1="56.25" x2="405.50" y2="56.25" stroke="#000" stroke-width="0.7"/>
<text x="403.10" y="57.94" font-size="4.90" text-anchor="end" textLength="4.60" lengthAdjust="spacingAndGlyphs" stroke="#000" stroke-width="0.18">15</text>
<line x1="404.00" y1="43.30" x2="405.50" y2="43.30" stroke="#000" stroke-width="0.7"/>
<text x="403.10" y="44.99" font-size="4.90" text-anchor="end" textLength="4.60" lengthAdjust="spacingAndGlyphs" stroke="#000" stroke-width="0.18">20</text>
<line x1="404.00" y1="30.35" x2="405.50" y2="30.35" stroke="#000" stroke-width="0.7"/>
<text x="403.10" y="32.04" font-size="4.90" text-anchor="end" textLength="4.60" lengthAdjust="spacingAndGlyphs" stroke="#000" stroke-width="0.18">25</text>
<line x1="413.75" y1="86.40" x2="413.75" y2="83.60" stroke="#000" stroke-width="1.0"/>
<line x1="411.25" y1="83.60" x2="416.25" y2="83.60" stroke="#000" stroke-width="1.0"/>
<rect x="408.10" y="86.40" width="11.30" height="8.70" fill="#fff" stroke="#000" stroke-width="0.9"/>
<line x1="430.20" y1="75.60" x2="430.20" y2="70.40" stroke="#000" stroke-width="1.0"/>
<line x1="427.70" y1="70.40" x2="432.70" y2="70.40" stroke="#000" stroke-width="1.0"/>
<rect x="424.80" y="75.60" width="10.80" height="19.50" fill="#666" stroke="#000" stroke-width="0.9"/>
<line x1="446.70" y1="51.40" x2="446.70" y2="41.80" stroke="#000" stroke-width="1.0"/>
<line x1="444.20" y1="41.80" x2="449.20" y2="41.80" stroke="#000" stroke-width="1.0"/>
<rect x="441.00" y="51.40" width="11.40" height="43.70" fill="#000" stroke="#000" stroke-width="0.9"/>
<line x1="463.05" y1="81.90" x2="463.05" y2="76.30" stroke="#000" stroke-width="1.0"/>
<line x1="460.55" y1="76.30" x2="465.55" y2="76.30" stroke="#000" stroke-width="1.0"/>
<rect x="457.50" y="81.90" width="11.10" height="13.20" fill="#fff" stroke="#000" stroke-width="0.9"/>
<line x1="479.90" y1="70.70" x2="479.90" y2="61.60" stroke="#000" stroke-width="1.0"/>
<line x1="477.40" y1="61.60" x2="482.40" y2="61.60" stroke="#000" stroke-width="1.0"/>
<rect x="474.30" y="70.70" width="11.20" height="24.40" fill="#666" stroke="#000" stroke-width="0.9"/>
<line x1="496.40" y1="65.30" x2="496.40" y2="56.40" stroke="#000" stroke-width="1.0"/>
<line x1="493.90" y1="56.40" x2="498.90" y2="56.40" stroke="#000" stroke-width="1.0"/>
<rect x="490.80" y="65.30" width="11.20" height="29.80" fill="#000" stroke="#000" stroke-width="0.9"/>
<text x="394.00" y="61.66" font-size="4.80" text-anchor="middle" textLength="57.00" lengthAdjust="spacingAndGlyphs" transform="rotate(-90 394.00 60.00)" stroke="#000" stroke-width="0.18">%CD138+ cells in S/G2M</text>
<text x="427.10" y="22.36" font-size="4.80" text-anchor="middle" textLength="19.00" lengthAdjust="spacingAndGlyphs" stroke="#000" stroke-width="0.18">IgH/TCs</text>
<text x="475.40" y="22.46" font-size="4.80" text-anchor="middle" textLength="27.50" lengthAdjust="spacingAndGlyphs" stroke="#000" stroke-width="0.18">No IgH/TCs</text>
<line x1="407.80" y1="27.10" x2="447.30" y2="27.10" stroke="#000" stroke-width="0.95"/>
<line x1="425.60" y1="27.10" x2="425.60" y2="25.60" stroke="#000" stroke-width="0.95"/>
<line x1="457.50" y1="27.10" x2="496.10" y2="27.10" stroke="#000" stroke-width="0.95"/>
<line x1="476.00" y1="27.10" x2="476.00" y2="25.60" stroke="#000" stroke-width="0.95"/>
<polyline points="430.40,68.50 430.40,37.40 445.50,37.40 445.50,40.50" fill="none" stroke="#000" stroke-width="0.95"/>
<line x1="437.90" y1="37.40" x2="437.90" y2="36.00" stroke="#000" stroke-width="0.95"/>
<text x="437.00" y="34.19" font-size="4.60" text-anchor="middle" textLength="12.80" lengthAdjust="spacingAndGlyphs" stroke="#000" stroke-width="0.18"><tspan font-style="italic">P</tspan> &lt; .01</text>
<text x="381.40" y="101.82" font-size="5.00" text-anchor="start" textLength="25.20" lengthAdjust="spacingAndGlyphs" stroke="#000" stroke-width="0.18">Time (Hrs)</text>
<text x="381.40" y="107.92" font-size="5.00" text-anchor="start" textLength="14.60" lengthAdjust="spacingAndGlyphs" stroke="#000" stroke-width="0.18">APRIL</text>
<text x="415.20" y="101.82" font-size="5.00" text-anchor="middle" stroke="#000" stroke-width="0.18">0</text>
<text x="415.20" y="107.92" font-size="5.00" text-anchor="middle" stroke="#000" stroke-width="0.18">-</text>
<text x="430.80" y="101.82" font-size="5.00" text-anchor="middle" stroke="#000" stroke-width="0.18">72</text>
<text x="430.80" y="107.92" font-size="5.00" text-anchor="middle" stroke="#000" stroke-width="0.18">-</text>
<text x="445.20" y="101.82" font-size="5.00" text-anchor="middle" stroke="#000" stroke-width="0.18">72</text>
<text x="445.20" y="107.92" font-size="5.00" text-anchor="middle" stroke="#000" stroke-width="0.18">+</text>
<text x="463.30" y="101.82" font-size="5.00" text-anchor="middle" stroke="#000" stroke-width="0.18">0</text>
<text x="463.30" y="107.92" font-size="5.00" text-anchor="middle" stroke="#000" stroke-width="0.18">-</text>
<text x="479.40" y="101.82" font-size="5.00" text-anchor="middle" stroke="#000" stroke-width="0.18">72</text>
<text x="479.40" y="107.92" font-size="5.00" text-anchor="middle" stroke="#000" stroke-width="0.18">-</text>
<text x="495.60" y="101.82" font-size="5.00" text-anchor="middle" stroke="#000" stroke-width="0.18">72</text>
<text x="495.60" y="107.92" font-size="5.00" text-anchor="middle" stroke="#000" stroke-width="0.18">+</text>
<line x1="227.10" y1="175.60" x2="227.10" y2="241.00" stroke="#000" stroke-width="1.0"/>
<line x1="227.10" y1="241.00" x2="326.50" y2="241.00" stroke="#000" stroke-width="1.0"/>
<line x1="225.60" y1="241.00" x2="227.10" y2="241.00" stroke="#000" stroke-width="0.7"/>
<text x="225.00" y="242.69" font-size="4.90" text-anchor="end" textLength="2.40" lengthAdjust="spacingAndGlyphs" stroke="#000" stroke-width="0.18">0</text>
<line x1="225.60" y1="224.80" x2="227.10" y2="224.80" stroke="#000" stroke-width="0.7"/>
<text x="225.00" y="226.49" font-size="4.90" text-anchor="end" textLength="2.40" lengthAdjust="spacingAndGlyphs" stroke="#000" stroke-width="0.18">5</text>
<line x1="225.60" y1="208.60" x2="227.10" y2="208.60" stroke="#000" stroke-width="0.7"/>
<text x="225.00" y="210.29" font-size="4.90" text-anchor="end" textLength="4.70" lengthAdjust="spacingAndGlyphs" stroke="#000" stroke-width="0.18">10</text>
<line x1="225.60" y1="192.40" x2="227.10" y2="192.40" stroke="#000" stroke-width="0.7"/>
<text x="225.00" y="194.09" font-size="4.90" text-anchor="end" textLength="4.70" lengthAdjust="spacingAndGlyphs" stroke="#000" stroke-width="0.18">15</text>
<line x1="225.60" y1="176.20" x2="227.10" y2="176.20" stroke="#000" stroke-width="0.7"/>
<text x="225.00" y="177.89" font-size="4.90" text-anchor="end" textLength="4.70" lengthAdjust="spacingAndGlyphs" stroke="#000" stroke-width="0.18">20</text>
<line x1="233.75" y1="227.40" x2="233.75" y2="223.40" stroke="#000" stroke-width="1.0"/>
<line x1="231.45" y1="223.40" x2="236.05" y2="223.40" stroke="#000" stroke-width="1.0"/>
<rect x="229.40" y="227.40" width="8.70" height="13.60" fill="#fff" stroke="#000" stroke-width="0.9"/>
<line x1="246.50" y1="213.60" x2="246.50" y2="206.20" stroke="#000" stroke-width="1.0"/>
<line x1="244.20" y1="206.20" x2="248.80" y2="206.20" stroke="#000" stroke-width="1.0"/>
<rect x="242.20" y="213.60" width="8.60" height="27.40" fill="#666" stroke="#000" stroke-width="0.9"/>
<line x1="258.75" y1="197.10" x2="258.75" y2="190.00" stroke="#000" stroke-width="1.0"/>
<line x1="256.45" y1="190.00" x2="261.05" y2="190.00" stroke="#000" stroke-width="1.0"/>
<rect x="254.20" y="197.10" width="9.10" height="43.90" fill="#000" stroke="#000" stroke-width="0.9"/>
<line x1="270.90" y1="202.90" x2="270.90" y2="194.60" stroke="#000" stroke-width="1.0"/>
<line x1="268.60" y1="194.60" x2="273.20" y2="194.60" stroke="#000" stroke-width="1.0"/>
<rect x="266.40" y="202.90" width="9.00" height="38.10" fill="url(#hat)" stroke="#000" stroke-width="0.9"/>
<line x1="283.60" y1="231.10" x2="283.60" y2="229.00" stroke="#000" stroke-width="1.0"/>
<line x1="281.30" y1="229.00" x2="285.90" y2="229.00" stroke="#000" stroke-width="1.0"/>
<rect x="279.20" y="231.10" width="8.80" height="9.90" fill="#fff" stroke="#000" stroke-width="0.9"/>
<line x1="295.70" y1="231.10" x2="295.70" y2="228.40" stroke="#000" stroke-width="1.0"/>
<line x1="293.40" y1="228.40" x2="298.00" y2="228.40" stroke="#000" stroke-width="1.0"/>
<rect x="291.30" y="231.10" width="8.80" height="9.90" fill="#666" stroke="#000" stroke-width="0.9"/>
<line x1="307.85" y1="229.90" x2="307.85" y2="227.80" stroke="#000" stroke-width="1.0"/>
<line x1="305.55" y1="227.80" x2="310.15" y2="227.80" stroke="#000" stroke-width="1.0"/>
<rect x="303.40" y="229.90" width="8.90" height="11.10" fill="#000" stroke="#000" stroke-width="0.9"/>
<line x1="320.40" y1="231.50" x2="320.40" y2="229.00" stroke="#000" stroke-width="1.0"/>
<line x1="318.10" y1="229.00" x2="322.70" y2="229.00" stroke="#000" stroke-width="1.0"/>
<rect x="315.90" y="231.50" width="9.00" height="9.50" fill="url(#hat)" stroke="#000" stroke-width="0.9"/>
<text x="214.00" y="207.36" font-size="4.80" text-anchor="middle" textLength="57.00" lengthAdjust="spacingAndGlyphs" transform="rotate(-90 214.00 205.70)" stroke="#000" stroke-width="0.18">%CD138+ cells in S/G2M</text>
<polyline points="246.30,202.80 246.30,173.10 254.30,173.10 254.30,175.90" fill="none" stroke="#000" stroke-width="0.95"/>
<line x1="250.50" y1="173.10" x2="250.50" y2="171.70" stroke="#000" stroke-width="0.95"/>
<polyline points="248.80,202.80 248.80,184.60 267.70,184.60 267.70,189.00" fill="none" stroke="#000" stroke-width="0.95"/>
<line x1="258.20" y1="184.60" x2="258.20" y2="183.20" stroke="#000" stroke-width="0.95"/>
<text x="249.20" y="169.89" font-size="4.60" text-anchor="middle" textLength="10.80" lengthAdjust="spacingAndGlyphs" stroke="#000" stroke-width="0.18"><tspan font-style="italic">P</tspan> &lt; .01</text>
<text x="256.40" y="180.59" font-size="4.60" text-anchor="middle" textLength="10.60" lengthAdjust="spacingAndGlyphs" stroke="#000" stroke-width="0.18"><tspan font-style="italic">P</tspan> &lt; .05</text>
<text x="199.90" y="247.92" font-size="5.00" text-anchor="start" textLength="25.20" lengthAdjust="spacingAndGlyphs" stroke="#000" stroke-width="0.18">Time (Hrs)</text>
<text x="199.90" y="254.03" font-size="5.00" text-anchor="start" textLength="14.60" lengthAdjust="spacingAndGlyphs" stroke="#000" stroke-width="0.18">APRIL</text>
<text x="199.90" y="260.23" font-size="5.00" text-anchor="start" textLength="13.40" lengthAdjust="spacingAndGlyphs" stroke="#000" stroke-width="0.18">BAFF</text>
<text x="233.60" y="247.92" font-size="5.00" text-anchor="middle" stroke="#000" stroke-width="0.18">0</text>
<text x="233.60" y="254.03" font-size="5.00" text-anchor="middle" stroke="#000" stroke-width="0.18">-</text>
<text x="233.60" y="260.23" font-size="5.00" text-anchor="middle" stroke="#000" stroke-width="0.18">-</text>
<text x="246.00" y="247.92" font-size="5.00" text-anchor="middle" stroke="#000" stroke-width="0.18">72</text>
<text x="246.00" y="254.03" font-size="5.00" text-anchor="middle" stroke="#000" stroke-width="0.18">-</text>
<text x="246.00" y="260.23" font-size="5.00" text-anchor="middle" stroke="#000" stroke-width="0.18">-</text>
<text x="258.30" y="247.92" font-size="5.00" text-anchor="middle" stroke="#000" stroke-width="0.18">72</text>
<text x="258.30" y="254.03" font-size="5.00" text-anchor="middle" stroke="#000" stroke-width="0.18">+</text>
<text x="258.30" y="260.23" font-size="5.00" text-anchor="middle" stroke="#000" stroke-width="0.18">-</text>
<text x="270.80" y="247.92" font-size="5.00" text-anchor="middle" stroke="#000" stroke-width="0.18">72</text>
<text x="270.80" y="254.03" font-size="5.00" text-anchor="middle" stroke="#000" stroke-width="0.18">-</text>
<text x="270.80" y="260.23" font-size="5.00" text-anchor="middle" stroke="#000" stroke-width="0.18">+</text>
<text x="283.30" y="247.92" font-size="5.00" text-anchor="middle" stroke="#000" stroke-width="0.18">0</text>
<text x="283.30" y="254.03" font-size="5.00" text-anchor="middle" stroke="#000" stroke-width="0.18">-</text>
<text x="283.30" y="260.23" font-size="5.00" text-anchor="middle" stroke="#000" stroke-width="0.18">-</text>
<text x="294.80" y="247.92" font-size="5.00" text-anchor="middle" stroke="#000" stroke-width="0.18">72</text>
<text x="294.80" y="254.03" font-size="5.00" text-anchor="middle" stroke="#000" stroke-width="0.18">-</text>
<text x="294.80" y="260.23" font-size="5.00" text-anchor="middle" stroke="#000" stroke-width="0.18">-</text>
<text x="307.20" y="247.92" font-size="5.00" text-anchor="middle" stroke="#000" stroke-width="0.18">72</text>
<text x="307.20" y="254.03" font-size="5.00" text-anchor="middle" stroke="#000" stroke-width="0.18">+</text>
<text x="307.20" y="260.23" font-size="5.00" text-anchor="middle" stroke="#000" stroke-width="0.18">-</text>
<text x="319.50" y="247.92" font-size="5.00" text-anchor="middle" stroke="#000" stroke-width="0.18">72</text>
<text x="319.50" y="254.03" font-size="5.00" text-anchor="middle" stroke="#000" stroke-width="0.18">-</text>
<text x="319.50" y="260.23" font-size="5.00" text-anchor="middle" stroke="#000" stroke-width="0.18">+</text>
<polyline points="233.50,262.00 233.50,263.80 272.50,263.80 272.50,262.00" fill="none" stroke="#000" stroke-width="0.95"/>
<line x1="253.00" y1="263.80" x2="253.00" y2="265.20" stroke="#000" stroke-width="0.95"/>
<polyline points="283.80,262.00 283.80,263.80 321.80,263.80 321.80,262.00" fill="none" stroke="#000" stroke-width="0.95"/>
<line x1="302.80" y1="263.80" x2="302.80" y2="265.20" stroke="#000" stroke-width="0.95"/>
<text x="253.90" y="271.03" font-size="5.00" text-anchor="middle" textLength="22.50" lengthAdjust="spacingAndGlyphs" stroke="#000" stroke-width="0.18">cyclin D2</text>
<text x="302.10" y="271.03" font-size="5.00" text-anchor="middle" textLength="20.80" lengthAdjust="spacingAndGlyphs" stroke="#000" stroke-width="0.18">cyclin D1</text>
<line x1="402.80" y1="176.00" x2="402.80" y2="242.90" stroke="#000" stroke-width="0.9"/>
<line x1="402.80" y1="242.90" x2="512.50" y2="242.90" stroke="#000" stroke-width="0.9"/>
<line x1="401.30" y1="242.90" x2="402.80" y2="242.90" stroke="#000" stroke-width="0.7"/>
<text x="400.90" y="244.38" font-size="4.30" text-anchor="end" textLength="2.45" lengthAdjust="spacingAndGlyphs" stroke="#000" stroke-width="0.18">0</text>
<line x1="401.30" y1="220.62" x2="402.80" y2="220.62" stroke="#000" stroke-width="0.7"/>
<text x="400.90" y="222.11" font-size="4.30" text-anchor="end" textLength="9.80" lengthAdjust="spacingAndGlyphs" stroke="#000" stroke-width="0.18">5000</text>
<line x1="401.30" y1="198.35" x2="402.80" y2="198.35" stroke="#000" stroke-width="0.7"/>
<text x="400.90" y="199.83" font-size="4.30" text-anchor="end" textLength="12.25" lengthAdjust="spacingAndGlyphs" stroke="#000" stroke-width="0.18">10000</text>
<line x1="401.30" y1="176.07" x2="402.80" y2="176.07" stroke="#000" stroke-width="0.7"/>
<text x="400.90" y="177.56" font-size="4.30" text-anchor="end" textLength="12.25" lengthAdjust="spacingAndGlyphs" stroke="#000" stroke-width="0.18">15000</text>
<line x1="410.95" y1="220.50" x2="410.95" y2="218.60" stroke="#000" stroke-width="1.0"/>
<line x1="408.25" y1="218.60" x2="413.65" y2="218.60" stroke="#000" stroke-width="1.0"/>
<rect x="405.20" y="220.50" width="11.50" height="22.40" fill="#fff" stroke="#000" stroke-width="0.9"/>
<line x1="426.80" y1="233.50" x2="426.80" y2="232.60" stroke="#000" stroke-width="1.0"/>
<line x1="424.10" y1="232.60" x2="429.50" y2="232.60" stroke="#000" stroke-width="1.0"/>
<rect x="421.30" y="233.50" width="11.00" height="9.40" fill="#777" stroke="#000" stroke-width="0.9"/>
<line x1="442.65" y1="230.50" x2="442.65" y2="229.60" stroke="#000" stroke-width="1.0"/>
<line x1="439.95" y1="229.60" x2="445.35" y2="229.60" stroke="#000" stroke-width="1.0"/>
<rect x="437.20" y="230.50" width="10.90" height="12.40" fill="#000" stroke="#000" stroke-width="0.9"/>
<line x1="458.95" y1="232.50" x2="458.95" y2="231.40" stroke="#000" stroke-width="1.0"/>
<line x1="456.25" y1="231.40" x2="461.65" y2="231.40" stroke="#000" stroke-width="1.0"/>
<rect x="453.10" y="232.50" width="11.70" height="10.40" fill="url(#hat)" stroke="#000" stroke-width="0.9"/>
<line x1="474.95" y1="210.30" x2="474.95" y2="205.30" stroke="#000" stroke-width="1.0"/>
<line x1="472.25" y1="205.30" x2="477.65" y2="205.30" stroke="#000" stroke-width="1.0"/>
<rect x="469.30" y="210.30" width="11.30" height="32.60" fill="#777" stroke="#000" stroke-width="0.9"/>
<line x1="490.90" y1="184.90" x2="490.90" y2="180.40" stroke="#000" stroke-width="1.0"/>
<line x1="488.20" y1="180.40" x2="493.60" y2="180.40" stroke="#000" stroke-width="1.0"/>
<rect x="485.40" y="184.90" width="11.00" height="58.00" fill="#000" stroke="#000" stroke-width="0.9"/>
<line x1="506.95" y1="194.30" x2="506.95" y2="186.70" stroke="#000" stroke-width="1.0"/>
<line x1="504.25" y1="186.70" x2="509.65" y2="186.70" stroke="#000" stroke-width="1.0"/>
<rect x="501.40" y="194.30" width="11.10" height="48.60" fill="url(#hat)" stroke="#000" stroke-width="0.9"/>
<text x="381.70" y="211.53" font-size="5.00" text-anchor="middle" textLength="10.50" lengthAdjust="spacingAndGlyphs" transform="rotate(-90 381.70 209.80)" stroke="#000" stroke-width="0.18">CPM</text>
<text x="446.00" y="173.96" font-size="4.80" text-anchor="middle" textLength="24.40" lengthAdjust="spacingAndGlyphs" stroke="#000" stroke-width="0.18">Patient #3</text>
<text x="376.90" y="249.72" font-size="5.00" text-anchor="start" textLength="25.50" lengthAdjust="spacingAndGlyphs" stroke="#000" stroke-width="0.18">Time (Hrs)</text>
<text x="376.90" y="256.32" font-size="5.00" text-anchor="start" textLength="7.20" lengthAdjust="spacingAndGlyphs" stroke="#000" stroke-width="0.18">CM</text>
<text x="376.90" y="262.93" font-size="5.00" text-anchor="start" textLength="14.60" lengthAdjust="spacingAndGlyphs" stroke="#000" stroke-width="0.18">APRIL</text>
<text x="376.90" y="269.43" font-size="5.00" text-anchor="start" textLength="13.40" lengthAdjust="spacingAndGlyphs" stroke="#000" stroke-width="0.18">BAFF</text>
<text x="410.60" y="249.72" font-size="5.00" text-anchor="middle" stroke="#000" stroke-width="0.18">0</text>
<text x="410.60" y="256.32" font-size="5.00" text-anchor="middle" stroke="#000" stroke-width="0.18">-</text>
<text x="410.60" y="262.93" font-size="5.00" text-anchor="middle" stroke="#000" stroke-width="0.18">-</text>
<text x="410.60" y="269.43" font-size="5.00" text-anchor="middle" stroke="#000" stroke-width="0.18">-</text>
<text x="426.50" y="249.72" font-size="5.00" text-anchor="middle" stroke="#000" stroke-width="0.18">72</text>
<text x="426.50" y="256.32" font-size="5.00" text-anchor="middle" stroke="#000" stroke-width="0.18">-</text>
<text x="426.50" y="262.93" font-size="5.00" text-anchor="middle" stroke="#000" stroke-width="0.18">-</text>
<text x="426.50" y="269.43" font-size="5.00" text-anchor="middle" stroke="#000" stroke-width="0.18">-</text>
<text x="442.40" y="249.72" font-size="5.00" text-anchor="middle" stroke="#000" stroke-width="0.18">72</text>
<text x="442.40" y="256.32" font-size="5.00" text-anchor="middle" stroke="#000" stroke-width="0.18">-</text>
<text x="442.40" y="262.93" font-size="5.00" text-anchor="middle" stroke="#000" stroke-width="0.18">+</text>
<text x="442.40" y="269.43" font-size="5.00" text-anchor="middle" stroke="#000" stroke-width="0.18">-</text>
<text x="458.30" y="249.72" font-size="5.00" text-anchor="middle" stroke="#000" stroke-width="0.18">72</text>
<text x="458.30" y="256.32" font-size="5.00" text-anchor="middle" stroke="#000" stroke-width="0.18">-</text>
<text x="458.30" y="262.93" font-size="5.00" text-anchor="middle" stroke="#000" stroke-width="0.18">-</text>
<text x="458.30" y="269.43" font-size="5.00" text-anchor="middle" stroke="#000" stroke-width="0.18">+</text>
<text x="474.60" y="249.72" font-size="5.00" text-anchor="middle" stroke="#000" stroke-width="0.18">72</text>
<text x="474.60" y="256.32" font-size="5.00" text-anchor="middle" stroke="#000" stroke-width="0.18">+</text>
<text x="474.60" y="262.93" font-size="5.00" text-anchor="middle" stroke="#000" stroke-width="0.18">-</text>
<text x="474.60" y="269.43" font-size="5.00" text-anchor="middle" stroke="#000" stroke-width="0.18">-</text>
<text x="490.80" y="249.72" font-size="5.00" text-anchor="middle" stroke="#000" stroke-width="0.18">72</text>
<text x="490.80" y="256.32" font-size="5.00" text-anchor="middle" stroke="#000" stroke-width="0.18">+</text>
<text x="490.80" y="262.93" font-size="5.00" text-anchor="middle" stroke="#000" stroke-width="0.18">+</text>
<text x="490.80" y="269.43" font-size="5.00" text-anchor="middle" stroke="#000" stroke-width="0.18">-</text>
<text x="506.80" y="249.72" font-size="5.00" text-anchor="middle" stroke="#000" stroke-width="0.18">72</text>
<text x="506.80" y="256.32" font-size="5.00" text-anchor="middle" stroke="#000" stroke-width="0.18">+</text>
<text x="506.80" y="262.93" font-size="5.00" text-anchor="middle" stroke="#000" stroke-width="0.18">-</text>
<text x="506.80" y="269.43" font-size="5.00" text-anchor="middle" stroke="#000" stroke-width="0.18">+</text>
<line x1="161.10" y1="312.00" x2="161.10" y2="370.20" stroke="#000" stroke-width="0.9"/>
<line x1="161.10" y1="370.20" x2="249.50" y2="370.20" stroke="#000" stroke-width="0.9"/>
<line x1="159.60" y1="370.20" x2="161.10" y2="370.20" stroke="#000" stroke-width="0.7"/>
<text x="159.10" y="371.58" font-size="4.00" text-anchor="end" textLength="2.40" lengthAdjust="spacingAndGlyphs" stroke="#000" stroke-width="0.18">0</text>
<line x1="159.60" y1="350.70" x2="161.10" y2="350.70" stroke="#000" stroke-width="0.7"/>
<text x="159.10" y="352.08" font-size="4.00" text-anchor="end" textLength="12.00" lengthAdjust="spacingAndGlyphs" stroke="#000" stroke-width="0.18">10000</text>
<line x1="159.60" y1="331.20" x2="161.10" y2="331.20" stroke="#000" stroke-width="0.7"/>
<text x="159.10" y="332.58" font-size="4.00" text-anchor="end" textLength="12.00" lengthAdjust="spacingAndGlyphs" stroke="#000" stroke-width="0.18">20000</text>
<line x1="159.60" y1="311.70" x2="161.10" y2="311.70" stroke="#000" stroke-width="0.7"/>
<text x="159.10" y="313.08" font-size="4.00" text-anchor="end" textLength="12.00" lengthAdjust="spacingAndGlyphs" stroke="#000" stroke-width="0.18">30000</text>
<line x1="170.20" y1="370.20" x2="170.20" y2="371.70" stroke="#000" stroke-width="0.7"/>
<text x="170.20" y="376.35" font-size="4.20" text-anchor="middle" textLength="2.25" lengthAdjust="spacingAndGlyphs" stroke="#000" stroke-width="0.18">0</text>
<line x1="187.60" y1="370.20" x2="187.60" y2="371.70" stroke="#000" stroke-width="0.7"/>
<text x="187.60" y="376.35" font-size="4.20" text-anchor="middle" textLength="4.50" lengthAdjust="spacingAndGlyphs" stroke="#000" stroke-width="0.18">25</text>
<line x1="205.40" y1="370.20" x2="205.40" y2="371.70" stroke="#000" stroke-width="0.7"/>
<text x="205.40" y="376.35" font-size="4.20" text-anchor="middle" textLength="4.50" lengthAdjust="spacingAndGlyphs" stroke="#000" stroke-width="0.18">50</text>
<line x1="223.00" y1="370.20" x2="223.00" y2="371.70" stroke="#000" stroke-width="0.7"/>
<text x="223.00" y="376.35" font-size="4.20" text-anchor="middle" textLength="6.75" lengthAdjust="spacingAndGlyphs" stroke="#000" stroke-width="0.18">100</text>
<line x1="240.30" y1="370.20" x2="240.30" y2="371.70" stroke="#000" stroke-width="0.7"/>
<text x="240.30" y="376.35" font-size="4.20" text-anchor="middle" textLength="6.75" lengthAdjust="spacingAndGlyphs" stroke="#000" stroke-width="0.18">200</text>
<text x="142.20" y="344.62" font-size="4.70" text-anchor="middle" textLength="9.50" lengthAdjust="spacingAndGlyphs" transform="rotate(-90 142.20 343.00)" stroke="#000" stroke-width="0.18">CPM</text>
<text x="201.30" y="310.89" font-size="4.60" text-anchor="middle" textLength="22.20" lengthAdjust="spacingAndGlyphs" stroke="#000" stroke-width="0.18">Patient #7</text>
<text x="206.10" y="383.09" font-size="4.60" text-anchor="middle" textLength="33.00" lengthAdjust="spacingAndGlyphs" stroke="#000" stroke-width="0.18">APRIL (ng/mL)</text>
<polyline points="170.20,362.80 187.60,353.60 205.40,340.30 223.00,332.70 240.30,337.30" fill="none" stroke="#000" stroke-width="1.25"/>
<line x1="170.20" y1="360.80" x2="170.20" y2="364.80" stroke="#000" stroke-width="0.9"/>
<line x1="168.50" y1="360.80" x2="171.90" y2="360.80" stroke="#000" stroke-width="0.9"/>
<line x1="168.50" y1="364.80" x2="171.90" y2="364.80" stroke="#000" stroke-width="0.9"/>
<circle cx="170.20" cy="362.80" r="1.3" fill="#000"/>
<line x1="187.60" y1="348.60" x2="187.60" y2="358.20" stroke="#000" stroke-width="0.9"/>
<line x1="185.90" y1="348.60" x2="189.30" y2="348.60" stroke="#000" stroke-width="0.9"/>
<line x1="185.90" y1="358.20" x2="189.30" y2="358.20" stroke="#000" stroke-width="0.9"/>
<circle cx="187.60" cy="353.60" r="1.3" fill="#000"/>
<line x1="205.40" y1="335.80" x2="205.40" y2="344.80" stroke="#000" stroke-width="0.9"/>
<line x1="203.70" y1="335.80" x2="207.10" y2="335.80" stroke="#000" stroke-width="0.9"/>
<line x1="203.70" y1="344.80" x2="207.10" y2="344.80" stroke="#000" stroke-width="0.9"/>
<circle cx="205.40" cy="340.30" r="1.3" fill="#000"/>
<line x1="223.00" y1="320.70" x2="223.00" y2="344.80" stroke="#000" stroke-width="0.9"/>
<line x1="221.30" y1="320.70" x2="224.70" y2="320.70" stroke="#000" stroke-width="0.9"/>
<line x1="221.30" y1="344.80" x2="224.70" y2="344.80" stroke="#000" stroke-width="0.9"/>
<circle cx="223.00" cy="332.70" r="1.3" fill="#000"/>
<line x1="240.30" y1="333.40" x2="240.30" y2="341.20" stroke="#000" stroke-width="0.9"/>
<line x1="238.60" y1="333.40" x2="242.00" y2="333.40" stroke="#000" stroke-width="0.9"/>
<line x1="238.60" y1="341.20" x2="242.00" y2="341.20" stroke="#000" stroke-width="0.9"/>
<circle cx="240.30" cy="337.30" r="1.3" fill="#000"/>
<polyline points="170.20,385.60 170.20,387.10 242.40,387.10 242.40,385.60" fill="none" stroke="#000" stroke-width="0.95"/>
<line x1="205.40" y1="387.10" x2="205.40" y2="388.60" stroke="#000" stroke-width="0.95"/>
<text x="206.50" y="395.46" font-size="4.80" text-anchor="middle" textLength="14.50" lengthAdjust="spacingAndGlyphs" stroke="#000" stroke-width="0.18">72 Hrs</text>
<line x1="296.70" y1="310.30" x2="296.70" y2="370.00" stroke="#000" stroke-width="0.9"/>
<line x1="296.70" y1="370.00" x2="384.80" y2="370.00" stroke="#000" stroke-width="0.9"/>
<line x1="295.20" y1="370.00" x2="296.70" y2="370.00" stroke="#000" stroke-width="0.7"/>
<text x="294.70" y="371.38" font-size="4.00" text-anchor="end" textLength="2.40" lengthAdjust="spacingAndGlyphs" stroke="#000" stroke-width="0.18">0</text>
<line x1="295.20" y1="350.40" x2="296.70" y2="350.40" stroke="#000" stroke-width="0.7"/>
<text x="294.70" y="351.78" font-size="4.00" text-anchor="end" textLength="9.60" lengthAdjust="spacingAndGlyphs" stroke="#000" stroke-width="0.18">5000</text>
<line x1="295.20" y1="330.80" x2="296.70" y2="330.80" stroke="#000" stroke-width="0.7"/>
<text x="294.70" y="332.18" font-size="4.00" text-anchor="end" textLength="12.00" lengthAdjust="spacingAndGlyphs" stroke="#000" stroke-width="0.18">10000</text>
<line x1="295.20" y1="311.20" x2="296.70" y2="311.20" stroke="#000" stroke-width="0.7"/>
<text x="294.70" y="312.58" font-size="4.00" text-anchor="end" textLength="12.00" lengthAdjust="spacingAndGlyphs" stroke="#000" stroke-width="0.18">15000</text>
<rect x="300.80" y="364.60" width="13.80" height="5.40" fill="#aaa" stroke="#000" stroke-width="0.8"/>
<rect x="322.20" y="366.40" width="14.30" height="3.60" fill="url(#dots)" stroke="#000" stroke-width="0.8"/>
<rect x="344.60" y="330.70" width="13.90" height="39.30" fill="#000" stroke="#000" stroke-width="0.8"/>
<rect x="366.50" y="366.40" width="13.90" height="3.60" fill="url(#dots)" stroke="#000" stroke-width="0.8"/>
<text x="275.70" y="342.62" font-size="4.70" text-anchor="middle" textLength="9.50" lengthAdjust="spacingAndGlyphs" transform="rotate(-90 275.70 341.00)" stroke="#000" stroke-width="0.18">CPM</text>
<text x="336.40" y="310.69" font-size="4.60" text-anchor="middle" textLength="22.20" lengthAdjust="spacingAndGlyphs" stroke="#000" stroke-width="0.18">Patient #7</text>
<text x="287.20" y="376.88" font-size="4.30" text-anchor="end" textLength="9.40" lengthAdjust="spacingAndGlyphs" stroke="#000" stroke-width="0.18">APRIL</text>
<text x="287.20" y="383.08" font-size="4.30" text-anchor="end" textLength="13.40" lengthAdjust="spacingAndGlyphs" stroke="#000" stroke-width="0.18">TACI-Fc</text>
<text x="307.70" y="376.85" font-size="4.20" text-anchor="middle" stroke="#000" stroke-width="0.18">-</text>
<text x="307.70" y="383.05" font-size="4.20" text-anchor="middle" stroke="#000" stroke-width="0.18">-</text>
<text x="330.80" y="376.85" font-size="4.20" text-anchor="middle" stroke="#000" stroke-width="0.18">-</text>
<text x="330.80" y="383.05" font-size="4.20" text-anchor="middle" stroke="#000" stroke-width="0.18">+</text>
<text x="352.70" y="376.85" font-size="4.20" text-anchor="middle" stroke="#000" stroke-width="0.18">+</text>
<text x="352.70" y="383.05" font-size="4.20" text-anchor="middle" stroke="#000" stroke-width="0.18">-</text>
<text x="374.60" y="376.85" font-size="4.20" text-anchor="middle" stroke="#000" stroke-width="0.18">+</text>
<text x="374.60" y="383.05" font-size="4.20" text-anchor="middle" stroke="#000" stroke-width="0.18">+</text>
<polyline points="307.70,386.60 307.70,388.10 374.60,388.10 374.60,386.60" fill="none" stroke="#000" stroke-width="0.95"/>
<line x1="341.20" y1="388.10" x2="341.20" y2="389.60" stroke="#000" stroke-width="0.95"/>
<text x="342.40" y="396.16" font-size="4.80" text-anchor="middle" textLength="14.30" lengthAdjust="spacingAndGlyphs" stroke="#000" stroke-width="0.18">72 Hrs</text>
</g>
<text x="5.20" y="10.10" font-size="11.60" text-anchor="middle" stroke="#000" stroke-width="0.18">A</text>
<text x="4.80" y="162.20" font-size="11.60" text-anchor="middle" stroke="#000" stroke-width="0.18">B</text>
<text x="198.00" y="9.50" font-size="11.60" text-anchor="middle" stroke="#000" stroke-width="0.18">C</text>
<text x="197.80" y="163.40" font-size="11.60" text-anchor="middle" stroke="#000" stroke-width="0.18">D</text>
<text x="379.30" y="10.40" font-size="11.60" text-anchor="middle" stroke="#000" stroke-width="0.18">E</text>
<text x="378.80" y="162.20" font-size="11.60" text-anchor="middle" stroke="#000" stroke-width="0.18">F</text>
<text x="140.50" y="305.00" font-size="11.60" text-anchor="middle" stroke="#000" stroke-width="0.18">G</text>
</svg></body></html>
